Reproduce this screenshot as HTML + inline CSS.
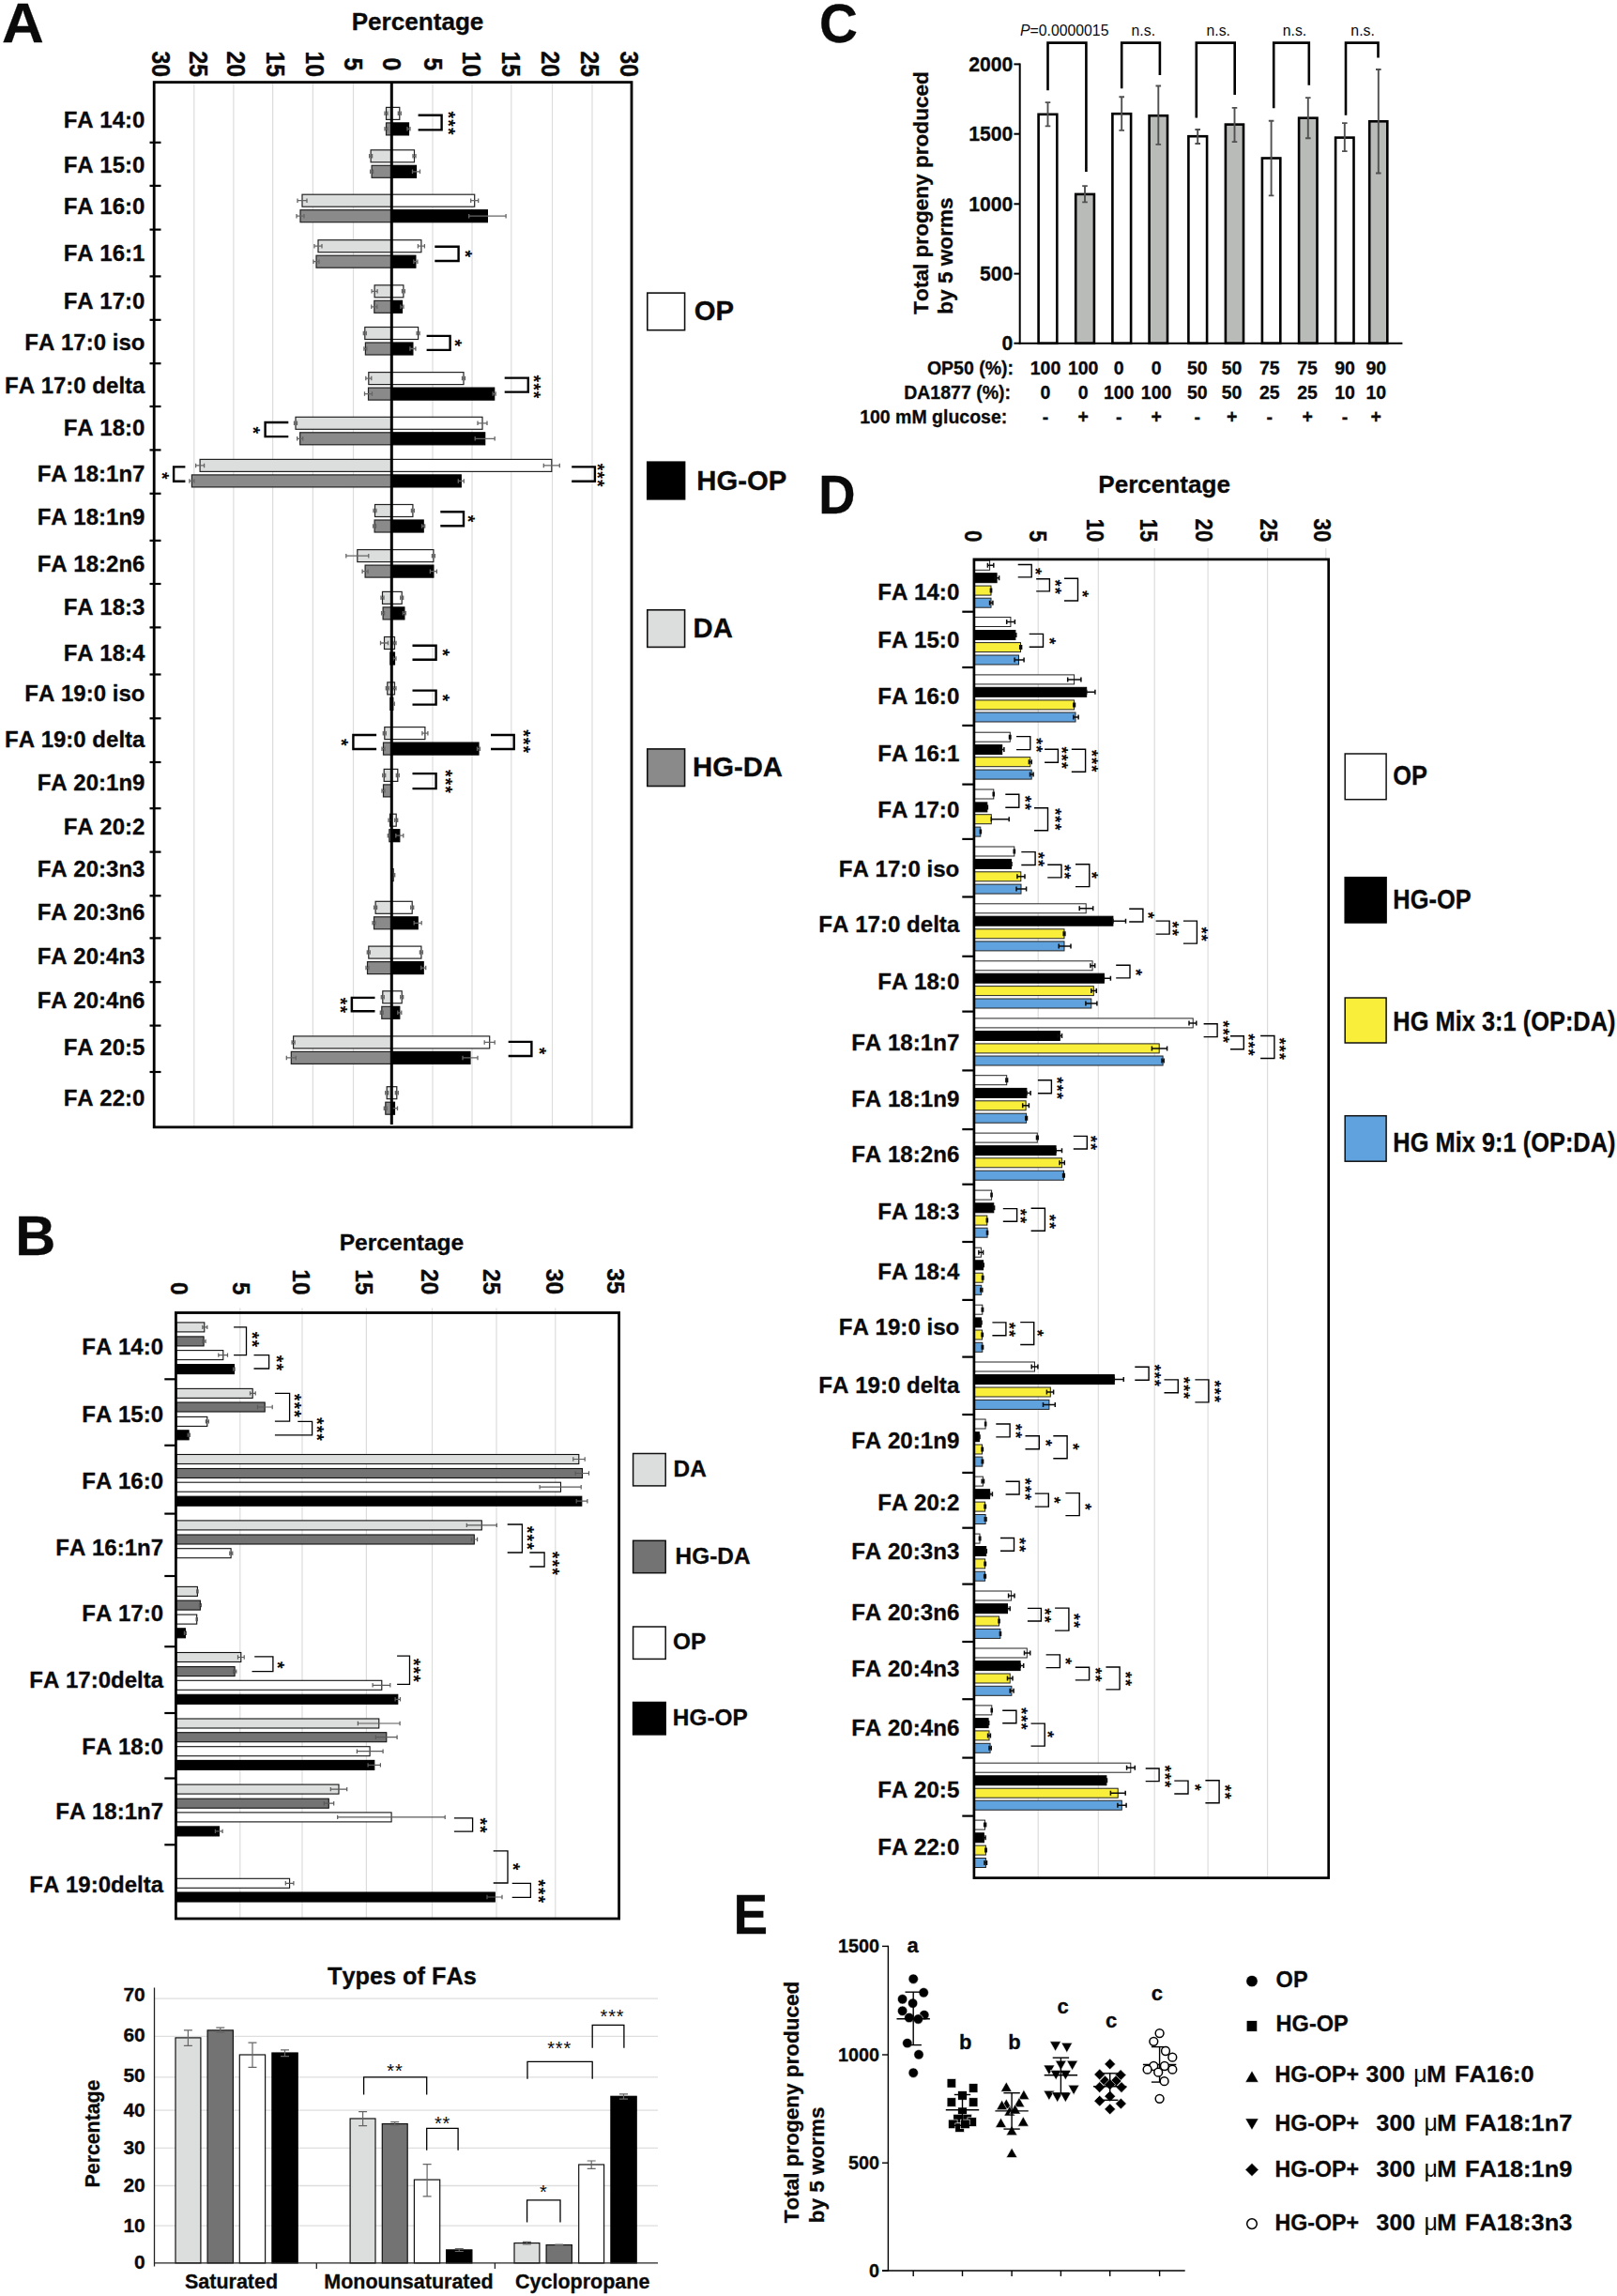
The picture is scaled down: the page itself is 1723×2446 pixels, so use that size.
<!DOCTYPE html>
<html lang="en"><head><meta charset="utf-8"><title>Figure</title>
<style>
html,body{margin:0;padding:0;background:#fff;}
body{width:1723px;height:2446px;overflow:hidden;}
svg{display:block;}
svg text{font-family:"Liberation Sans",Arial,Helvetica,sans-serif;font-kerning:none;font-variant-ligatures:none;}
</style></head><body>
<svg width="1723" height="2446" viewBox="0 0 1723 2446">
<rect x="0" y="0" width="1723" height="2446" fill="#fff"/>
<line x1="206.8" y1="87.6" x2="206.8" y2="1200.8" stroke="#dcdcdc" stroke-width="1.2"/>
<line x1="248.9" y1="87.6" x2="248.9" y2="1200.8" stroke="#dcdcdc" stroke-width="1.2"/>
<line x1="290.6" y1="87.6" x2="290.6" y2="1200.8" stroke="#dcdcdc" stroke-width="1.2"/>
<line x1="333.4" y1="87.6" x2="333.4" y2="1200.8" stroke="#dcdcdc" stroke-width="1.2"/>
<line x1="376.5" y1="87.6" x2="376.5" y2="1200.8" stroke="#dcdcdc" stroke-width="1.2"/>
<line x1="461" y1="87.6" x2="461" y2="1200.8" stroke="#dcdcdc" stroke-width="1.2"/>
<line x1="503" y1="87.6" x2="503" y2="1200.8" stroke="#dcdcdc" stroke-width="1.2"/>
<line x1="544.8" y1="87.6" x2="544.8" y2="1200.8" stroke="#dcdcdc" stroke-width="1.2"/>
<line x1="588.5" y1="87.6" x2="588.5" y2="1200.8" stroke="#dcdcdc" stroke-width="1.2"/>
<line x1="631" y1="87.6" x2="631" y2="1200.8" stroke="#dcdcdc" stroke-width="1.2"/>
<rect x="411.5" y="114.4" width="5.8" height="13" fill="#dcdedd" stroke="#222" stroke-width="1.2"/>
<rect x="417.3" y="114.4" width="8.5" height="13" fill="#fff" stroke="#222" stroke-width="1.2"/>
<rect x="411.5" y="130.9" width="5.8" height="13" fill="#8a8a8a" stroke="#222" stroke-width="1.2"/>
<rect x="417.3" y="130.9" width="18.2" height="13" fill="#000" stroke="#000" stroke-width="1.2"/>
<path d="M410 120.9H413M410 118.6V123.1M413 118.6V123.1" fill="none" stroke="#666" stroke-width="1.3"/>
<path d="M424.3 120.9H427.3M424.3 118.6V123.1M427.3 118.6V123.1" fill="none" stroke="#666" stroke-width="1.3"/>
<path d="M410 137.4H413M410 135.1V139.6M413 135.1V139.6" fill="none" stroke="#666" stroke-width="1.3"/>
<path d="M434 137.4H437M434 135.1V139.6M437 135.1V139.6" fill="none" stroke="#666" stroke-width="1.3"/>
<rect x="395.1" y="159.8" width="22.2" height="13" fill="#dcdedd" stroke="#222" stroke-width="1.2"/>
<rect x="417.3" y="159.8" width="24.2" height="13" fill="#fff" stroke="#222" stroke-width="1.2"/>
<rect x="396.1" y="176.3" width="21.2" height="13" fill="#8a8a8a" stroke="#222" stroke-width="1.2"/>
<rect x="417.3" y="176.3" width="26.2" height="13" fill="#000" stroke="#000" stroke-width="1.2"/>
<path d="M393.6 166.3H396.6M393.6 164.1V168.6M396.6 164.1V168.6" fill="none" stroke="#666" stroke-width="1.3"/>
<path d="M440 166.3H443M440 164.1V168.6M443 164.1V168.6" fill="none" stroke="#666" stroke-width="1.3"/>
<path d="M394.6 182.8H397.6M394.6 180.6V185.1M397.6 180.6V185.1" fill="none" stroke="#666" stroke-width="1.3"/>
<path d="M439.5 182.8H447.5M439.5 180.6V185.1M447.5 180.6V185.1" fill="none" stroke="#666" stroke-width="1.3"/>
<rect x="322" y="207.2" width="95.3" height="13" fill="#dcdedd" stroke="#222" stroke-width="1.2"/>
<rect x="417.3" y="207.2" width="88.4" height="13" fill="#fff" stroke="#222" stroke-width="1.2"/>
<rect x="320" y="223.7" width="97.3" height="13" fill="#8a8a8a" stroke="#222" stroke-width="1.2"/>
<rect x="417.3" y="223.7" width="102.1" height="13" fill="#000" stroke="#000" stroke-width="1.2"/>
<path d="M317 213.7H327M317 211.5V216M327 211.5V216" fill="none" stroke="#666" stroke-width="1.3"/>
<path d="M501.7 213.7H509.7M501.7 211.5V216M509.7 211.5V216" fill="none" stroke="#666" stroke-width="1.3"/>
<path d="M316 230.2H324M316 228V232.5M324 228V232.5" fill="none" stroke="#666" stroke-width="1.3"/>
<path d="M499.7 230.2H539.1M499.7 228V232.5M539.1 228V232.5" fill="none" stroke="#666" stroke-width="1.3"/>
<rect x="339" y="255.7" width="78.3" height="13" fill="#dcdedd" stroke="#222" stroke-width="1.2"/>
<rect x="417.3" y="255.7" width="31.6" height="13" fill="#fff" stroke="#222" stroke-width="1.2"/>
<rect x="337" y="272.2" width="80.3" height="13" fill="#8a8a8a" stroke="#222" stroke-width="1.2"/>
<rect x="417.3" y="272.2" width="25.6" height="13" fill="#000" stroke="#000" stroke-width="1.2"/>
<path d="M335 262.2H343M335 259.9V264.4M343 259.9V264.4" fill="none" stroke="#666" stroke-width="1.3"/>
<path d="M445.4 262.2H452.4M445.4 259.9V264.4M452.4 259.9V264.4" fill="none" stroke="#666" stroke-width="1.3"/>
<path d="M334 278.7H340M334 276.4V280.9M340 276.4V280.9" fill="none" stroke="#666" stroke-width="1.3"/>
<path d="M440.9 278.7H444.9M440.9 276.4V280.9M444.9 276.4V280.9" fill="none" stroke="#666" stroke-width="1.3"/>
<rect x="399.1" y="303.8" width="18.2" height="13" fill="#dcdedd" stroke="#222" stroke-width="1.2"/>
<rect x="417.3" y="303.8" width="12.6" height="13" fill="#fff" stroke="#222" stroke-width="1.2"/>
<rect x="398.8" y="320.3" width="18.5" height="13" fill="#8a8a8a" stroke="#222" stroke-width="1.2"/>
<rect x="417.3" y="320.3" width="11.2" height="13" fill="#000" stroke="#000" stroke-width="1.2"/>
<path d="M396.1 310.3H402.1M396.1 308V312.5M402.1 308V312.5" fill="none" stroke="#666" stroke-width="1.3"/>
<path d="M428.4 310.3H431.4M428.4 308V312.5M431.4 308V312.5" fill="none" stroke="#666" stroke-width="1.3"/>
<path d="M395.8 326.8H401.8M395.8 324.5V329M401.8 324.5V329" fill="none" stroke="#666" stroke-width="1.3"/>
<path d="M427 326.8H430M427 324.5V329M430 324.5V329" fill="none" stroke="#666" stroke-width="1.3"/>
<rect x="388.8" y="348.5" width="28.5" height="13" fill="#dcdedd" stroke="#222" stroke-width="1.2"/>
<rect x="417.3" y="348.5" width="28.3" height="13" fill="#fff" stroke="#222" stroke-width="1.2"/>
<rect x="389.4" y="365" width="27.9" height="13" fill="#8a8a8a" stroke="#222" stroke-width="1.2"/>
<rect x="417.3" y="365" width="22.6" height="13" fill="#000" stroke="#000" stroke-width="1.2"/>
<path d="M387.3 355H390.3M387.3 352.8V357.3M390.3 352.8V357.3" fill="none" stroke="#666" stroke-width="1.3"/>
<path d="M444.1 355H447.1M444.1 352.8V357.3M447.1 352.8V357.3" fill="none" stroke="#666" stroke-width="1.3"/>
<path d="M387.9 371.5H390.9M387.9 369.3V373.8M390.9 369.3V373.8" fill="none" stroke="#666" stroke-width="1.3"/>
<path d="M436.9 371.5H442.9M436.9 369.3V373.8M442.9 369.3V373.8" fill="none" stroke="#666" stroke-width="1.3"/>
<rect x="392.8" y="396.6" width="24.5" height="13" fill="#dcdedd" stroke="#222" stroke-width="1.2"/>
<rect x="417.3" y="396.6" width="76.7" height="13" fill="#fff" stroke="#222" stroke-width="1.2"/>
<rect x="392.5" y="413.1" width="24.8" height="13" fill="#8a8a8a" stroke="#222" stroke-width="1.2"/>
<rect x="417.3" y="413.1" width="109.4" height="13" fill="#000" stroke="#000" stroke-width="1.2"/>
<path d="M389.8 403.1H395.8M389.8 400.8V405.3M395.8 400.8V405.3" fill="none" stroke="#666" stroke-width="1.3"/>
<path d="M492.5 403.1H495.5M492.5 400.8V405.3M495.5 400.8V405.3" fill="none" stroke="#666" stroke-width="1.3"/>
<path d="M388.5 419.6H396.5M388.5 417.3V421.8M396.5 417.3V421.8" fill="none" stroke="#666" stroke-width="1.3"/>
<path d="M525.2 419.6H528.2M525.2 417.3V421.8M528.2 417.3V421.8" fill="none" stroke="#666" stroke-width="1.3"/>
<rect x="315" y="444.3" width="102.3" height="13" fill="#dcdedd" stroke="#222" stroke-width="1.2"/>
<rect x="417.3" y="444.3" width="96.7" height="13" fill="#fff" stroke="#222" stroke-width="1.2"/>
<rect x="319.7" y="460.8" width="97.6" height="13" fill="#8a8a8a" stroke="#222" stroke-width="1.2"/>
<rect x="417.3" y="460.8" width="99.4" height="13" fill="#000" stroke="#000" stroke-width="1.2"/>
<path d="M313.5 450.8H316.5M313.5 448.6V453.1M316.5 448.6V453.1" fill="none" stroke="#666" stroke-width="1.3"/>
<path d="M509 450.8H519M509 448.6V453.1M519 448.6V453.1" fill="none" stroke="#666" stroke-width="1.3"/>
<path d="M316.7 467.3H322.7M316.7 465.1V469.6M322.7 465.1V469.6" fill="none" stroke="#666" stroke-width="1.3"/>
<path d="M506.2 467.3H527.2M506.2 465.1V469.6M527.2 465.1V469.6" fill="none" stroke="#666" stroke-width="1.3"/>
<rect x="213.1" y="489.4" width="204.2" height="13" fill="#dcdedd" stroke="#222" stroke-width="1.2"/>
<rect x="417.3" y="489.4" width="170.5" height="13" fill="#fff" stroke="#222" stroke-width="1.2"/>
<rect x="204.4" y="505.9" width="212.9" height="13" fill="#8a8a8a" stroke="#222" stroke-width="1.2"/>
<rect x="417.3" y="505.9" width="74" height="13" fill="#000" stroke="#000" stroke-width="1.2"/>
<path d="M208.6 495.9H217.6M208.6 493.7V498.2M217.6 493.7V498.2" fill="none" stroke="#666" stroke-width="1.3"/>
<path d="M579.3 495.9H596.3M579.3 493.7V498.2M596.3 493.7V498.2" fill="none" stroke="#666" stroke-width="1.3"/>
<path d="M201.9 512.4H206.9M201.9 510.2V514.7M206.9 510.2V514.7" fill="none" stroke="#666" stroke-width="1.3"/>
<path d="M488.3 512.4H494.3M488.3 510.2V514.7M494.3 510.2V514.7" fill="none" stroke="#666" stroke-width="1.3"/>
<rect x="399.5" y="537.5" width="17.8" height="13" fill="#dcdedd" stroke="#222" stroke-width="1.2"/>
<rect x="417.3" y="537.5" width="22.6" height="13" fill="#fff" stroke="#222" stroke-width="1.2"/>
<rect x="399.1" y="554" width="18.2" height="13" fill="#8a8a8a" stroke="#222" stroke-width="1.2"/>
<rect x="417.3" y="554" width="33.9" height="13" fill="#000" stroke="#000" stroke-width="1.2"/>
<path d="M398 544H401M398 541.8V546.3M401 541.8V546.3" fill="none" stroke="#666" stroke-width="1.3"/>
<path d="M438.4 544H441.4M438.4 541.8V546.3M441.4 541.8V546.3" fill="none" stroke="#666" stroke-width="1.3"/>
<path d="M397.6 560.5H400.6M397.6 558.3V562.8M400.6 558.3V562.8" fill="none" stroke="#666" stroke-width="1.3"/>
<path d="M449.7 560.5H452.7M449.7 558.3V562.8M452.7 558.3V562.8" fill="none" stroke="#666" stroke-width="1.3"/>
<rect x="380.8" y="585.6" width="36.5" height="13" fill="#dcdedd" stroke="#222" stroke-width="1.2"/>
<rect x="417.3" y="585.6" width="44.6" height="13" fill="#fff" stroke="#222" stroke-width="1.2"/>
<rect x="389.1" y="602.1" width="28.2" height="13" fill="#8a8a8a" stroke="#222" stroke-width="1.2"/>
<rect x="417.3" y="602.1" width="44.6" height="13" fill="#000" stroke="#000" stroke-width="1.2"/>
<path d="M368.8 592.1H392.8M368.8 589.9V594.4M392.8 589.9V594.4" fill="none" stroke="#666" stroke-width="1.3"/>
<path d="M460.4 592.1H463.4M460.4 589.9V594.4M463.4 589.9V594.4" fill="none" stroke="#666" stroke-width="1.3"/>
<path d="M386.1 608.6H392.1M386.1 606.4V610.9M392.1 606.4V610.9" fill="none" stroke="#666" stroke-width="1.3"/>
<path d="M458.4 608.6H465.4M458.4 606.4V610.9M465.4 606.4V610.9" fill="none" stroke="#666" stroke-width="1.3"/>
<rect x="407.5" y="630.4" width="9.8" height="13" fill="#dcdedd" stroke="#222" stroke-width="1.2"/>
<rect x="417.3" y="630.4" width="10.9" height="13" fill="#fff" stroke="#222" stroke-width="1.2"/>
<rect x="408.1" y="646.9" width="9.2" height="13" fill="#8a8a8a" stroke="#222" stroke-width="1.2"/>
<rect x="417.3" y="646.9" width="13.6" height="13" fill="#000" stroke="#000" stroke-width="1.2"/>
<path d="M406 636.9H409M406 634.6V639.1M409 634.6V639.1" fill="none" stroke="#666" stroke-width="1.3"/>
<path d="M426.7 636.9H429.7M426.7 634.6V639.1M429.7 634.6V639.1" fill="none" stroke="#666" stroke-width="1.3"/>
<path d="M406.6 653.4H409.6M406.6 651.1V655.6M409.6 651.1V655.6" fill="none" stroke="#666" stroke-width="1.3"/>
<path d="M429.4 653.4H432.4M429.4 651.1V655.6M432.4 651.1V655.6" fill="none" stroke="#666" stroke-width="1.3"/>
<rect x="409.5" y="678.5" width="7.8" height="13" fill="#dcdedd" stroke="#222" stroke-width="1.2"/>
<rect x="417.3" y="678.5" width="3.2" height="13" fill="#fff" stroke="#222" stroke-width="1.2"/>
<rect x="415.8" y="695" width="1.5" height="13" fill="#8a8a8a" stroke="#222" stroke-width="1.2"/>
<rect x="417.3" y="695" width="3.2" height="13" fill="#000" stroke="#000" stroke-width="1.2"/>
<path d="M405.5 685H413.5M405.5 682.7V687.2M413.5 682.7V687.2" fill="none" stroke="#666" stroke-width="1.3"/>
<path d="M419 685H422M419 682.7V687.2M422 682.7V687.2" fill="none" stroke="#666" stroke-width="1.3"/>
<path d="M419 701.5H422M419 699.2V703.7M422 699.2V703.7" fill="none" stroke="#666" stroke-width="1.3"/>
<rect x="412.8" y="726.9" width="4.5" height="13" fill="#dcdedd" stroke="#222" stroke-width="1.2"/>
<rect x="417.3" y="726.9" width="3.2" height="13" fill="#fff" stroke="#222" stroke-width="1.2"/>
<rect x="415.8" y="743.4" width="1.5" height="13" fill="#8a8a8a" stroke="#222" stroke-width="1.2"/>
<rect x="417.3" y="743.4" width="1.5" height="13" fill="#000" stroke="#000" stroke-width="1.2"/>
<path d="M411.3 733.4H414.3M411.3 731.1V735.6M414.3 731.1V735.6" fill="none" stroke="#666" stroke-width="1.3"/>
<path d="M419 733.4H422M419 731.1V735.6M422 731.1V735.6" fill="none" stroke="#666" stroke-width="1.3"/>
<path d="M417.3 749.9H420.3M417.3 747.6V752.1M420.3 747.6V752.1" fill="none" stroke="#666" stroke-width="1.3"/>
<rect x="409.8" y="774.6" width="7.5" height="13" fill="#dcdedd" stroke="#222" stroke-width="1.2"/>
<rect x="417.3" y="774.6" width="35.6" height="13" fill="#fff" stroke="#222" stroke-width="1.2"/>
<rect x="408.5" y="791.1" width="8.8" height="13" fill="#8a8a8a" stroke="#222" stroke-width="1.2"/>
<rect x="417.3" y="791.1" width="92.7" height="13" fill="#000" stroke="#000" stroke-width="1.2"/>
<path d="M408.3 781.1H411.3M408.3 778.9V783.4M411.3 778.9V783.4" fill="none" stroke="#666" stroke-width="1.3"/>
<path d="M449.9 781.1H455.9M449.9 778.9V783.4M455.9 778.9V783.4" fill="none" stroke="#666" stroke-width="1.3"/>
<path d="M407 797.6H410M407 795.4V799.9M410 795.4V799.9" fill="none" stroke="#666" stroke-width="1.3"/>
<path d="M508.5 797.6H511.5M508.5 795.4V799.9M511.5 795.4V799.9" fill="none" stroke="#666" stroke-width="1.3"/>
<rect x="409.2" y="819.4" width="8.1" height="13" fill="#dcdedd" stroke="#222" stroke-width="1.2"/>
<rect x="417.3" y="819.4" width="6.5" height="13" fill="#fff" stroke="#222" stroke-width="1.2"/>
<rect x="408.5" y="835.9" width="8.8" height="13" fill="#8a8a8a" stroke="#222" stroke-width="1.2"/>
<path d="M407.7 825.9H410.7M407.7 823.7V828.2M410.7 823.7V828.2" fill="none" stroke="#666" stroke-width="1.3"/>
<path d="M422.3 825.9H425.3M422.3 823.7V828.2M425.3 823.7V828.2" fill="none" stroke="#666" stroke-width="1.3"/>
<path d="M407 842.4H410M407 840.2V844.7M410 840.2V844.7" fill="none" stroke="#666" stroke-width="1.3"/>
<rect x="415.5" y="867.2" width="1.8" height="13" fill="#dcdedd" stroke="#222" stroke-width="1.2"/>
<rect x="417.3" y="867.2" width="4.9" height="13" fill="#fff" stroke="#222" stroke-width="1.2"/>
<rect x="414.8" y="883.7" width="2.5" height="13" fill="#8a8a8a" stroke="#222" stroke-width="1.2"/>
<rect x="417.3" y="883.7" width="8.5" height="13" fill="#000" stroke="#000" stroke-width="1.2"/>
<path d="M414 873.7H417M414 871.4V875.9M417 871.4V875.9" fill="none" stroke="#666" stroke-width="1.3"/>
<path d="M420.7 873.7H423.7M420.7 871.4V875.9M423.7 871.4V875.9" fill="none" stroke="#666" stroke-width="1.3"/>
<path d="M413.3 890.2H416.3M413.3 887.9V892.4M416.3 887.9V892.4" fill="none" stroke="#666" stroke-width="1.3"/>
<path d="M421.8 890.2H429.8M421.8 887.9V892.4M429.8 887.9V892.4" fill="none" stroke="#666" stroke-width="1.3"/>
<rect x="417.3" y="925.6" width="1.9" height="13" fill="#fff" stroke="#222" stroke-width="1.2"/>
<path d="M417.7 932.1H420.7M417.7 929.9V934.4M420.7 929.9V934.4" fill="none" stroke="#666" stroke-width="1.3"/>
<rect x="400.1" y="960.3" width="17.2" height="13" fill="#dcdedd" stroke="#222" stroke-width="1.2"/>
<rect x="417.3" y="960.3" width="21.9" height="13" fill="#fff" stroke="#222" stroke-width="1.2"/>
<rect x="398.5" y="976.8" width="18.8" height="13" fill="#8a8a8a" stroke="#222" stroke-width="1.2"/>
<rect x="417.3" y="976.8" width="27.9" height="13" fill="#000" stroke="#000" stroke-width="1.2"/>
<path d="M398.6 966.8H401.6M398.6 964.6V969.1M401.6 964.6V969.1" fill="none" stroke="#666" stroke-width="1.3"/>
<path d="M437.7 966.8H440.7M437.7 964.6V969.1M440.7 964.6V969.1" fill="none" stroke="#666" stroke-width="1.3"/>
<path d="M397 983.3H400M397 981.1V985.6M400 981.1V985.6" fill="none" stroke="#666" stroke-width="1.3"/>
<path d="M441.2 983.3H449.2M441.2 981.1V985.6M449.2 981.1V985.6" fill="none" stroke="#666" stroke-width="1.3"/>
<rect x="392.8" y="1008.1" width="24.5" height="13" fill="#dcdedd" stroke="#222" stroke-width="1.2"/>
<rect x="417.3" y="1008.1" width="31.6" height="13" fill="#fff" stroke="#222" stroke-width="1.2"/>
<rect x="391.5" y="1024.6" width="25.8" height="13" fill="#8a8a8a" stroke="#222" stroke-width="1.2"/>
<rect x="417.3" y="1024.6" width="33.9" height="13" fill="#000" stroke="#000" stroke-width="1.2"/>
<path d="M391.3 1014.6H394.3M391.3 1012.3V1016.8M394.3 1012.3V1016.8" fill="none" stroke="#666" stroke-width="1.3"/>
<path d="M447.4 1014.6H450.4M447.4 1012.3V1016.8M450.4 1012.3V1016.8" fill="none" stroke="#666" stroke-width="1.3"/>
<path d="M390 1031.1H393M390 1028.8V1033.3M393 1028.8V1033.3" fill="none" stroke="#666" stroke-width="1.3"/>
<path d="M448.7 1031.1H453.7M448.7 1028.8V1033.3M453.7 1028.8V1033.3" fill="none" stroke="#666" stroke-width="1.3"/>
<rect x="407.8" y="1055.8" width="9.5" height="13" fill="#dcdedd" stroke="#222" stroke-width="1.2"/>
<rect x="417.3" y="1055.8" width="10.9" height="13" fill="#fff" stroke="#222" stroke-width="1.2"/>
<rect x="406.8" y="1072.3" width="10.5" height="13" fill="#8a8a8a" stroke="#222" stroke-width="1.2"/>
<rect x="417.3" y="1072.3" width="8.5" height="13" fill="#000" stroke="#000" stroke-width="1.2"/>
<path d="M406.3 1062.3H409.3M406.3 1060.1V1064.6M409.3 1060.1V1064.6" fill="none" stroke="#666" stroke-width="1.3"/>
<path d="M426.7 1062.3H429.7M426.7 1060.1V1064.6M429.7 1060.1V1064.6" fill="none" stroke="#666" stroke-width="1.3"/>
<path d="M405.3 1078.8H408.3M405.3 1076.6V1081.1M408.3 1076.6V1081.1" fill="none" stroke="#666" stroke-width="1.3"/>
<path d="M423.8 1078.8H427.8M423.8 1076.6V1081.1M427.8 1076.6V1081.1" fill="none" stroke="#666" stroke-width="1.3"/>
<rect x="312.6" y="1103.9" width="104.7" height="13" fill="#dcdedd" stroke="#222" stroke-width="1.2"/>
<rect x="417.3" y="1103.9" width="104.4" height="13" fill="#fff" stroke="#222" stroke-width="1.2"/>
<rect x="310.3" y="1120.4" width="107" height="13" fill="#8a8a8a" stroke="#222" stroke-width="1.2"/>
<rect x="417.3" y="1120.4" width="83.7" height="13" fill="#000" stroke="#000" stroke-width="1.2"/>
<path d="M311.1 1110.4H314.1M311.1 1108.2V1112.7M314.1 1108.2V1112.7" fill="none" stroke="#666" stroke-width="1.3"/>
<path d="M516.2 1110.4H527.2M516.2 1108.2V1112.7M527.2 1108.2V1112.7" fill="none" stroke="#666" stroke-width="1.3"/>
<path d="M305.3 1126.9H315.3M305.3 1124.7V1129.2M315.3 1124.7V1129.2" fill="none" stroke="#666" stroke-width="1.3"/>
<path d="M493 1126.9H509M493 1124.7V1129.2M509 1124.7V1129.2" fill="none" stroke="#666" stroke-width="1.3"/>
<rect x="412.2" y="1157.7" width="5.1" height="13" fill="#dcdedd" stroke="#222" stroke-width="1.2"/>
<rect x="417.3" y="1157.7" width="5.5" height="13" fill="#fff" stroke="#222" stroke-width="1.2"/>
<rect x="410.8" y="1174.2" width="6.5" height="13" fill="#8a8a8a" stroke="#222" stroke-width="1.2"/>
<rect x="417.3" y="1174.2" width="3.2" height="13" fill="#000" stroke="#000" stroke-width="1.2"/>
<path d="M410.7 1164.2H413.7M410.7 1162V1166.5M413.7 1162V1166.5" fill="none" stroke="#666" stroke-width="1.3"/>
<path d="M421.3 1164.2H424.3M421.3 1162V1166.5M424.3 1162V1166.5" fill="none" stroke="#666" stroke-width="1.3"/>
<path d="M409.3 1180.7H412.3M409.3 1178.5V1183M412.3 1178.5V1183" fill="none" stroke="#666" stroke-width="1.3"/>
<path d="M417.5 1180.7H423.5M417.5 1178.5V1183M423.5 1178.5V1183" fill="none" stroke="#666" stroke-width="1.3"/>
<rect x="164.2" y="87.6" width="508.8" height="1113.2" fill="none" stroke="#000" stroke-width="2.8"/>
<line x1="417.3" y1="87.6" x2="417.3" y2="1198" stroke="#000" stroke-width="3"/>
<line x1="159.5" y1="151.8" x2="171.5" y2="151.8" stroke="#000" stroke-width="2.2"/>
<line x1="159.5" y1="197.9" x2="171.5" y2="197.9" stroke="#000" stroke-width="2.2"/>
<line x1="159.5" y1="244.6" x2="171.5" y2="244.6" stroke="#000" stroke-width="2.2"/>
<line x1="159.5" y1="294.4" x2="171.5" y2="294.4" stroke="#000" stroke-width="2.2"/>
<line x1="159.5" y1="340.8" x2="171.5" y2="340.8" stroke="#000" stroke-width="2.2"/>
<line x1="159.5" y1="387.2" x2="171.5" y2="387.2" stroke="#000" stroke-width="2.2"/>
<line x1="159.5" y1="433" x2="171.5" y2="433" stroke="#000" stroke-width="2.2"/>
<line x1="159.5" y1="479.4" x2="171.5" y2="479.4" stroke="#000" stroke-width="2.2"/>
<line x1="159.5" y1="525.8" x2="171.5" y2="525.8" stroke="#000" stroke-width="2.2"/>
<line x1="159.5" y1="575.9" x2="171.5" y2="575.9" stroke="#000" stroke-width="2.2"/>
<line x1="159.5" y1="622" x2="171.5" y2="622" stroke="#000" stroke-width="2.2"/>
<line x1="159.5" y1="668.4" x2="171.5" y2="668.4" stroke="#000" stroke-width="2.2"/>
<line x1="159.5" y1="718.5" x2="171.5" y2="718.5" stroke="#000" stroke-width="2.2"/>
<line x1="159.5" y1="765.3" x2="171.5" y2="765.3" stroke="#000" stroke-width="2.2"/>
<line x1="159.5" y1="812" x2="171.5" y2="812" stroke="#000" stroke-width="2.2"/>
<line x1="159.5" y1="861.2" x2="171.5" y2="861.2" stroke="#000" stroke-width="2.2"/>
<line x1="159.5" y1="907.6" x2="171.5" y2="907.6" stroke="#000" stroke-width="2.2"/>
<line x1="159.5" y1="954.3" x2="171.5" y2="954.3" stroke="#000" stroke-width="2.2"/>
<line x1="159.5" y1="999.4" x2="171.5" y2="999.4" stroke="#000" stroke-width="2.2"/>
<line x1="159.5" y1="1046.2" x2="171.5" y2="1046.2" stroke="#000" stroke-width="2.2"/>
<line x1="159.5" y1="1092.6" x2="171.5" y2="1092.6" stroke="#000" stroke-width="2.2"/>
<line x1="159.5" y1="1142" x2="171.5" y2="1142" stroke="#000" stroke-width="2.2"/>
<text transform="translate(171.7,68.3) rotate(90) scale(1.030,1.120)" y="8.6" font-size="24" font-weight="bold" text-anchor="middle" fill="#0a0a0a" stroke="#0a0a0a" stroke-width="0.3">30</text>
<text transform="translate(211.5,68.3) rotate(90) scale(1.030,1.120)" y="8.6" font-size="24" font-weight="bold" text-anchor="middle" fill="#0a0a0a" stroke="#0a0a0a" stroke-width="0.3">25</text>
<text transform="translate(251.8,68.3) rotate(90) scale(1.030,1.120)" y="8.6" font-size="24" font-weight="bold" text-anchor="middle" fill="#0a0a0a" stroke="#0a0a0a" stroke-width="0.3">20</text>
<text transform="translate(294,68.3) rotate(90) scale(1.030,1.120)" y="8.6" font-size="24" font-weight="bold" text-anchor="middle" fill="#0a0a0a" stroke="#0a0a0a" stroke-width="0.3">15</text>
<text transform="translate(336,68.3) rotate(90) scale(1.030,1.120)" y="8.6" font-size="24" font-weight="bold" text-anchor="middle" fill="#0a0a0a" stroke="#0a0a0a" stroke-width="0.3">10</text>
<text transform="translate(377,68.3) rotate(90) scale(1.030,1.120)" y="8.6" font-size="24" font-weight="bold" text-anchor="middle" fill="#0a0a0a" stroke="#0a0a0a" stroke-width="0.3">5</text>
<text transform="translate(418,68.3) rotate(90) scale(1.030,1.120)" y="8.6" font-size="24" font-weight="bold" text-anchor="middle" fill="#0a0a0a" stroke="#0a0a0a" stroke-width="0.3">0</text>
<text transform="translate(461.3,68.3) rotate(90) scale(1.030,1.120)" y="8.6" font-size="24" font-weight="bold" text-anchor="middle" fill="#0a0a0a" stroke="#0a0a0a" stroke-width="0.3">5</text>
<text transform="translate(503,68.3) rotate(90) scale(1.030,1.120)" y="8.6" font-size="24" font-weight="bold" text-anchor="middle" fill="#0a0a0a" stroke="#0a0a0a" stroke-width="0.3">10</text>
<text transform="translate(544.8,68.3) rotate(90) scale(1.030,1.120)" y="8.6" font-size="24" font-weight="bold" text-anchor="middle" fill="#0a0a0a" stroke="#0a0a0a" stroke-width="0.3">15</text>
<text transform="translate(586.2,68.3) rotate(90) scale(1.030,1.120)" y="8.6" font-size="24" font-weight="bold" text-anchor="middle" fill="#0a0a0a" stroke="#0a0a0a" stroke-width="0.3">20</text>
<text transform="translate(628.3,68.3) rotate(90) scale(1.030,1.120)" y="8.6" font-size="24" font-weight="bold" text-anchor="middle" fill="#0a0a0a" stroke="#0a0a0a" stroke-width="0.3">25</text>
<text transform="translate(671,68.3) rotate(90) scale(1.030,1.120)" y="8.6" font-size="24" font-weight="bold" text-anchor="middle" fill="#0a0a0a" stroke="#0a0a0a" stroke-width="0.3">30</text>
<text transform="translate(445,32.2)" y="0" font-size="26.1" font-weight="bold" text-anchor="middle" fill="#0a0a0a" stroke="#0a0a0a" stroke-width="0.3">Percentage</text>
<text transform="translate(1.9,44.7) scale(1.050,1.000)" y="0" font-size="59" font-weight="bold" text-anchor="start" fill="#0a0a0a" stroke="#0a0a0a" stroke-width="0.3">A</text>
<text transform="translate(154.4,136.3)" y="0" font-size="24" font-weight="bold" text-anchor="end" fill="#0a0a0a" stroke="#0a0a0a" stroke-width="0.3">FA 14:0</text>
<text transform="translate(154.4,183.5)" y="0" font-size="24" font-weight="bold" text-anchor="end" fill="#0a0a0a" stroke="#0a0a0a" stroke-width="0.3">FA 15:0</text>
<text transform="translate(154.4,227.8)" y="0" font-size="24" font-weight="bold" text-anchor="end" fill="#0a0a0a" stroke="#0a0a0a" stroke-width="0.3">FA 16:0</text>
<text transform="translate(154.4,278.3)" y="0" font-size="24" font-weight="bold" text-anchor="end" fill="#0a0a0a" stroke="#0a0a0a" stroke-width="0.3">FA 16:1</text>
<text transform="translate(154.4,328.7)" y="0" font-size="24" font-weight="bold" text-anchor="end" fill="#0a0a0a" stroke="#0a0a0a" stroke-width="0.3">FA 17:0</text>
<text transform="translate(154.4,373)" y="0" font-size="24" font-weight="bold" text-anchor="end" fill="#0a0a0a" stroke="#0a0a0a" stroke-width="0.3">FA 17:0 iso</text>
<text transform="translate(154.4,419)" y="0" font-size="24" font-weight="bold" text-anchor="end" fill="#0a0a0a" stroke="#0a0a0a" stroke-width="0.3">FA 17:0 delta</text>
<text transform="translate(154.4,464)" y="0" font-size="24" font-weight="bold" text-anchor="end" fill="#0a0a0a" stroke="#0a0a0a" stroke-width="0.3">FA 18:0</text>
<text transform="translate(154.4,512.5)" y="0" font-size="24" font-weight="bold" text-anchor="end" fill="#0a0a0a" stroke="#0a0a0a" stroke-width="0.3">FA 18:1n7</text>
<text transform="translate(154.4,559.3)" y="0" font-size="24" font-weight="bold" text-anchor="end" fill="#0a0a0a" stroke="#0a0a0a" stroke-width="0.3">FA 18:1n9</text>
<text transform="translate(154.4,608.7)" y="0" font-size="24" font-weight="bold" text-anchor="end" fill="#0a0a0a" stroke="#0a0a0a" stroke-width="0.3">FA 18:2n6</text>
<text transform="translate(154.4,654.5)" y="0" font-size="24" font-weight="bold" text-anchor="end" fill="#0a0a0a" stroke="#0a0a0a" stroke-width="0.3">FA 18:3</text>
<text transform="translate(154.4,704)" y="0" font-size="24" font-weight="bold" text-anchor="end" fill="#0a0a0a" stroke="#0a0a0a" stroke-width="0.3">FA 18:4</text>
<text transform="translate(154.4,747)" y="0" font-size="24" font-weight="bold" text-anchor="end" fill="#0a0a0a" stroke="#0a0a0a" stroke-width="0.3">FA 19:0 iso</text>
<text transform="translate(154.4,795.5)" y="0" font-size="24" font-weight="bold" text-anchor="end" fill="#0a0a0a" stroke="#0a0a0a" stroke-width="0.3">FA 19:0 delta</text>
<text transform="translate(154.4,842.3)" y="0" font-size="24" font-weight="bold" text-anchor="end" fill="#0a0a0a" stroke="#0a0a0a" stroke-width="0.3">FA 20:1n9</text>
<text transform="translate(154.4,888.5)" y="0" font-size="24" font-weight="bold" text-anchor="end" fill="#0a0a0a" stroke="#0a0a0a" stroke-width="0.3">FA 20:2</text>
<text transform="translate(154.4,933.6)" y="0" font-size="24" font-weight="bold" text-anchor="end" fill="#0a0a0a" stroke="#0a0a0a" stroke-width="0.3">FA 20:3n3</text>
<text transform="translate(154.4,980.1)" y="0" font-size="24" font-weight="bold" text-anchor="end" fill="#0a0a0a" stroke="#0a0a0a" stroke-width="0.3">FA 20:3n6</text>
<text transform="translate(154.4,1026.8)" y="0" font-size="24" font-weight="bold" text-anchor="end" fill="#0a0a0a" stroke="#0a0a0a" stroke-width="0.3">FA 20:4n3</text>
<text transform="translate(154.4,1074.3)" y="0" font-size="24" font-weight="bold" text-anchor="end" fill="#0a0a0a" stroke="#0a0a0a" stroke-width="0.3">FA 20:4n6</text>
<text transform="translate(154.4,1123.5)" y="0" font-size="24" font-weight="bold" text-anchor="end" fill="#0a0a0a" stroke="#0a0a0a" stroke-width="0.3">FA 20:5</text>
<text transform="translate(154.4,1178.4)" y="0" font-size="24" font-weight="bold" text-anchor="end" fill="#0a0a0a" stroke="#0a0a0a" stroke-width="0.3">FA 22:0</text>
<path d="M445.6 122.7H470.6V138.4H445.6" fill="none" stroke="#000" stroke-width="2.4"/>
<text transform="translate(481.3,131.6) rotate(90)" y="9.9" font-size="19.5" font-weight="bold" text-anchor="middle" fill="#0a0a0a" letter-spacing="1.1">***</text>
<path d="M463.3 262.7H488.6V278H463.3" fill="none" stroke="#000" stroke-width="2.4"/>
<text transform="translate(498.7,270.4) rotate(90)" y="9.9" font-size="19.5" font-weight="bold" text-anchor="middle" fill="#0a0a0a">*</text>
<path d="M454.6 357.9H479.6V372.9H454.6" fill="none" stroke="#000" stroke-width="2.4"/>
<text transform="translate(488.3,365.2) rotate(90)" y="9.9" font-size="19.5" font-weight="bold" text-anchor="middle" fill="#0a0a0a">*</text>
<path d="M537.7 402.6H562.8V417.6H537.7" fill="none" stroke="#000" stroke-width="2.4"/>
<text transform="translate(571.8,412.5) rotate(90)" y="9.9" font-size="19.5" font-weight="bold" text-anchor="middle" fill="#0a0a0a" letter-spacing="1.1">***</text>
<path d="M307.3 450H282.6V465.1H307.3" fill="none" stroke="#000" stroke-width="2.4"/>
<text transform="translate(273.2,458.4) rotate(90)" y="9.9" font-size="19.5" font-weight="bold" text-anchor="middle" fill="#0a0a0a">*</text>
<path d="M197.4 497.4H185.1V512.8H197.4" fill="none" stroke="#000" stroke-width="2.4"/>
<text transform="translate(176,506.8) rotate(90)" y="9.9" font-size="19.5" font-weight="bold" text-anchor="middle" fill="#0a0a0a">*</text>
<path d="M609.2 497.4H633.9V512.8H609.2" fill="none" stroke="#000" stroke-width="2.4"/>
<text transform="translate(640.2,506.7) rotate(90)" y="9.9" font-size="19.5" font-weight="bold" text-anchor="middle" fill="#0a0a0a" letter-spacing="1.1">***</text>
<path d="M469.3 545.2H494V560.2H469.3" fill="none" stroke="#000" stroke-width="2.4"/>
<text transform="translate(501.7,552.5) rotate(90)" y="9.9" font-size="19.5" font-weight="bold" text-anchor="middle" fill="#0a0a0a">*</text>
<path d="M439.5 687.8H464.6V702.8H439.5" fill="none" stroke="#000" stroke-width="2.4"/>
<text transform="translate(474.9,695.1) rotate(90)" y="9.9" font-size="19.5" font-weight="bold" text-anchor="middle" fill="#0a0a0a">*</text>
<path d="M439.5 735.6H464.6V750.6H439.5" fill="none" stroke="#000" stroke-width="2.4"/>
<text transform="translate(474.9,743.2) rotate(90)" y="9.9" font-size="19.5" font-weight="bold" text-anchor="middle" fill="#0a0a0a">*</text>
<path d="M401.1 783H376.4V798H401.1" fill="none" stroke="#000" stroke-width="2.4"/>
<text transform="translate(367.1,790.7) rotate(90)" y="9.9" font-size="19.5" font-weight="bold" text-anchor="middle" fill="#0a0a0a">*</text>
<path d="M523 783H547.7V798H523" fill="none" stroke="#000" stroke-width="2.4"/>
<text transform="translate(561.4,790.2) rotate(90)" y="9.9" font-size="19.5" font-weight="bold" text-anchor="middle" fill="#0a0a0a" letter-spacing="1.1">***</text>
<path d="M439.5 824.1H464.6V840.1H439.5" fill="none" stroke="#000" stroke-width="2.4"/>
<text transform="translate(478.3,833) rotate(90)" y="9.9" font-size="19.5" font-weight="bold" text-anchor="middle" fill="#0a0a0a" letter-spacing="1.1">***</text>
<path d="M399.5 1062.9H374.8V1077.2H399.5" fill="none" stroke="#000" stroke-width="2.4"/>
<text transform="translate(366.1,1071.4) rotate(90)" y="9.9" font-size="19.5" font-weight="bold" text-anchor="middle" fill="#0a0a0a" letter-spacing="1.1">**</text>
<path d="M541.7 1109.9H566.4V1125H541.7" fill="none" stroke="#000" stroke-width="2.4"/>
<text transform="translate(578.1,1119.6) rotate(90)" y="9.9" font-size="19.5" font-weight="bold" text-anchor="middle" fill="#0a0a0a">*</text>
<rect x="689.8" y="312.1" width="39.8" height="39.6" fill="#fff" stroke="#111" stroke-width="1.6"/>
<text transform="translate(739.8,341.4)" y="0" font-size="29.3" font-weight="bold" text-anchor="start" fill="#0a0a0a" stroke="#0a0a0a" stroke-width="0.3">OP</text>
<rect x="689.8" y="492.2" width="39.8" height="39.6" fill="#000" stroke="#000" stroke-width="1.6"/>
<text transform="translate(742.3,521.8)" y="0" font-size="29.3" font-weight="bold" text-anchor="start" fill="#0a0a0a" stroke="#0a0a0a" stroke-width="0.3">HG-OP</text>
<rect x="689.8" y="649.8" width="39.8" height="39.6" fill="#dcdedd" stroke="#111" stroke-width="1.6"/>
<text transform="translate(738.5,679.1)" y="0" font-size="29.3" font-weight="bold" text-anchor="start" fill="#0a0a0a" stroke="#0a0a0a" stroke-width="0.3">DA</text>
<rect x="689.8" y="797.9" width="39.8" height="39.6" fill="#8a8a8a" stroke="#111" stroke-width="1.6"/>
<text transform="translate(738,826.9)" y="0" font-size="29.3" font-weight="bold" text-anchor="start" fill="#0a0a0a" stroke="#0a0a0a" stroke-width="0.3">HG-DA</text>
<line x1="255.8" y1="1393.5" x2="255.8" y2="2044" stroke="#dcdcdc" stroke-width="1.2"/>
<line x1="322" y1="1393.5" x2="322" y2="2044" stroke="#dcdcdc" stroke-width="1.2"/>
<line x1="390.4" y1="1393.5" x2="390.4" y2="2044" stroke="#dcdcdc" stroke-width="1.2"/>
<line x1="460.5" y1="1393.5" x2="460.5" y2="2044" stroke="#dcdcdc" stroke-width="1.2"/>
<line x1="529" y1="1393.5" x2="529" y2="2044" stroke="#dcdcdc" stroke-width="1.2"/>
<line x1="591.8" y1="1393.5" x2="591.8" y2="2044" stroke="#dcdcdc" stroke-width="1.2"/>
<rect x="188" y="1408.9" width="29.8" height="10" fill="#dcdedd" stroke="#111" stroke-width="1.1"/>
<path d="M215.8 1413.9H220.8M215.8 1411.7V1416.1M220.8 1411.7V1416.1" fill="none" stroke="#5a5a5a" stroke-width="1.2"/>
<rect x="188" y="1423.9" width="29.1" height="10" fill="#737373" stroke="#111" stroke-width="1.1"/>
<path d="M215.8 1428.9H219.1M215.8 1426.7V1431.1M219.1 1426.7V1431.1" fill="none" stroke="#5a5a5a" stroke-width="1.2"/>
<rect x="188" y="1438.6" width="49.8" height="10" fill="#fff" stroke="#111" stroke-width="1.1"/>
<path d="M232.8 1443.6H242.5M232.8 1441.4V1445.8M242.5 1441.4V1445.8" fill="none" stroke="#5a5a5a" stroke-width="1.2"/>
<rect x="188" y="1453.6" width="61.5" height="10" fill="#000" stroke="#000" stroke-width="1.1"/>
<path d="M248.5 1458.6H250.1M248.5 1456.4V1460.8M250.1 1456.4V1460.8" fill="none" stroke="#5a5a5a" stroke-width="1.2"/>
<rect x="188" y="1479.4" width="81.2" height="10" fill="#dcdedd" stroke="#111" stroke-width="1.1"/>
<path d="M266.5 1484.4H272.2M266.5 1482.2V1486.6M272.2 1482.2V1486.6" fill="none" stroke="#5a5a5a" stroke-width="1.2"/>
<rect x="188" y="1494" width="94.2" height="10" fill="#737373" stroke="#111" stroke-width="1.1"/>
<path d="M274.5 1499H290.2M274.5 1496.8V1501.2M290.2 1496.8V1501.2" fill="none" stroke="#5a5a5a" stroke-width="1.2"/>
<rect x="188" y="1509.4" width="32.8" height="10" fill="#fff" stroke="#111" stroke-width="1.1"/>
<path d="M219.4 1514.4H222.4M219.4 1512.2V1516.6M222.4 1512.2V1516.6" fill="none" stroke="#5a5a5a" stroke-width="1.2"/>
<rect x="188" y="1523.8" width="13.1" height="10" fill="#000" stroke="#000" stroke-width="1.1"/>
<path d="M200.1 1528.8H202.4M200.1 1526.6V1531M202.4 1526.6V1531" fill="none" stroke="#5a5a5a" stroke-width="1.2"/>
<rect x="188" y="1549.5" width="428.8" height="10" fill="#dcdedd" stroke="#111" stroke-width="1.1"/>
<path d="M610.8 1554.5H623.2M610.8 1552.3V1556.7M623.2 1552.3V1556.7" fill="none" stroke="#5a5a5a" stroke-width="1.2"/>
<rect x="188" y="1564.5" width="432.5" height="10" fill="#737373" stroke="#111" stroke-width="1.1"/>
<path d="M613.2 1569.5H627.5M613.2 1567.3V1571.7M627.5 1567.3V1571.7" fill="none" stroke="#5a5a5a" stroke-width="1.2"/>
<rect x="188" y="1579.2" width="409.5" height="10" fill="#fff" stroke="#111" stroke-width="1.1"/>
<path d="M575.1 1584.2H619.2M575.1 1582V1586.4M619.2 1582V1586.4" fill="none" stroke="#5a5a5a" stroke-width="1.2"/>
<rect x="188" y="1594.2" width="431.8" height="10" fill="#000" stroke="#000" stroke-width="1.1"/>
<path d="M614.2 1599.2H625.9M614.2 1597V1601.4M625.9 1597V1601.4" fill="none" stroke="#5a5a5a" stroke-width="1.2"/>
<rect x="188" y="1619.9" width="325.3" height="10" fill="#dcdedd" stroke="#111" stroke-width="1.1"/>
<path d="M497.3 1624.9H529.3M497.3 1622.7V1627.1M529.3 1622.7V1627.1" fill="none" stroke="#5a5a5a" stroke-width="1.2"/>
<rect x="188" y="1635" width="317.3" height="10" fill="#737373" stroke="#111" stroke-width="1.1"/>
<path d="M502.3 1640H508.6M502.3 1637.8V1642.2M508.6 1637.8V1642.2" fill="none" stroke="#5a5a5a" stroke-width="1.2"/>
<rect x="188" y="1649.7" width="58.1" height="10" fill="#fff" stroke="#111" stroke-width="1.1"/>
<path d="M244.8 1654.7H247.8M244.8 1652.5V1656.9M247.8 1652.5V1656.9" fill="none" stroke="#5a5a5a" stroke-width="1.2"/>
<rect x="188" y="1690.4" width="22.4" height="10" fill="#dcdedd" stroke="#111" stroke-width="1.1"/>
<path d="M209.7 1695.4H211.1M209.7 1693.2V1697.6M211.1 1693.2V1697.6" fill="none" stroke="#5a5a5a" stroke-width="1.2"/>
<rect x="188" y="1705.1" width="25.4" height="10" fill="#737373" stroke="#111" stroke-width="1.1"/>
<path d="M212.4 1710.1H214.4M212.4 1707.9V1712.3M214.4 1707.9V1712.3" fill="none" stroke="#5a5a5a" stroke-width="1.2"/>
<rect x="188" y="1720.1" width="21.7" height="10" fill="#fff" stroke="#111" stroke-width="1.1"/>
<path d="M209.1 1725.1H210.4M209.1 1722.9V1727.3M210.4 1722.9V1727.3" fill="none" stroke="#5a5a5a" stroke-width="1.2"/>
<rect x="188" y="1734.8" width="9.4" height="10" fill="#000" stroke="#000" stroke-width="1.1"/>
<path d="M196.4 1739.8H198.4M196.4 1737.6V1742M198.4 1737.6V1742" fill="none" stroke="#5a5a5a" stroke-width="1.2"/>
<rect x="188" y="1760.5" width="68.8" height="10" fill="#dcdedd" stroke="#111" stroke-width="1.1"/>
<path d="M253.5 1765.5H260.2M253.5 1763.3V1767.7M260.2 1763.3V1767.7" fill="none" stroke="#5a5a5a" stroke-width="1.2"/>
<rect x="188" y="1775.6" width="62.1" height="10" fill="#737373" stroke="#111" stroke-width="1.1"/>
<path d="M248.5 1780.6H251.8M248.5 1778.4V1782.8M251.8 1778.4V1782.8" fill="none" stroke="#5a5a5a" stroke-width="1.2"/>
<rect x="188" y="1790.3" width="218.8" height="10" fill="#fff" stroke="#111" stroke-width="1.1"/>
<path d="M397.1 1795.3H415.8M397.1 1793.1V1797.5M415.8 1793.1V1797.5" fill="none" stroke="#5a5a5a" stroke-width="1.2"/>
<rect x="188" y="1805.3" width="235.8" height="10" fill="#000" stroke="#000" stroke-width="1.1"/>
<path d="M421.1 1810.3H426.5M421.1 1808.1V1812.5M426.5 1808.1V1812.5" fill="none" stroke="#5a5a5a" stroke-width="1.2"/>
<rect x="188" y="1831" width="215.8" height="10" fill="#dcdedd" stroke="#111" stroke-width="1.1"/>
<path d="M381.4 1836H426.1M381.4 1833.8V1838.2M426.1 1833.8V1838.2" fill="none" stroke="#5a5a5a" stroke-width="1.2"/>
<rect x="188" y="1845.7" width="223.8" height="10" fill="#737373" stroke="#111" stroke-width="1.1"/>
<path d="M400.4 1850.7H423.1M400.4 1848.5V1852.9M423.1 1848.5V1852.9" fill="none" stroke="#5a5a5a" stroke-width="1.2"/>
<rect x="188" y="1860.7" width="206.1" height="10" fill="#fff" stroke="#111" stroke-width="1.1"/>
<path d="M380.4 1865.7H408.1M380.4 1863.5V1867.9M408.1 1863.5V1867.9" fill="none" stroke="#5a5a5a" stroke-width="1.2"/>
<rect x="188" y="1875.4" width="210.8" height="10" fill="#000" stroke="#000" stroke-width="1.1"/>
<path d="M392.1 1880.4H405.4M392.1 1878.2V1882.6M405.4 1878.2V1882.6" fill="none" stroke="#5a5a5a" stroke-width="1.2"/>
<rect x="188" y="1901.1" width="173" height="10" fill="#dcdedd" stroke="#111" stroke-width="1.1"/>
<path d="M352.3 1906.1H369.7M352.3 1903.9V1908.3M369.7 1903.9V1908.3" fill="none" stroke="#5a5a5a" stroke-width="1.2"/>
<rect x="188" y="1916.2" width="162.3" height="10" fill="#737373" stroke="#111" stroke-width="1.1"/>
<path d="M345.3 1921.2H355.7M345.3 1919V1923.4M355.7 1919V1923.4" fill="none" stroke="#5a5a5a" stroke-width="1.2"/>
<rect x="188" y="1930.9" width="229.1" height="10" fill="#fff" stroke="#111" stroke-width="1.1"/>
<path d="M359.7 1935.9H474.2M359.7 1933.7V1938.1M474.2 1933.7V1938.1" fill="none" stroke="#5a5a5a" stroke-width="1.2"/>
<rect x="188" y="1945.9" width="45.5" height="10" fill="#000" stroke="#000" stroke-width="1.1"/>
<path d="M229.4 1950.9H237.1M229.4 1948.7V1953.1M237.1 1948.7V1953.1" fill="none" stroke="#5a5a5a" stroke-width="1.2"/>
<rect x="188" y="2001.3" width="120.6" height="10" fill="#fff" stroke="#111" stroke-width="1.1"/>
<path d="M304.3 2006.3H312.9M304.3 2004.1V2008.5M312.9 2004.1V2008.5" fill="none" stroke="#5a5a5a" stroke-width="1.2"/>
<rect x="188" y="2016" width="339.3" height="10" fill="#000" stroke="#000" stroke-width="1.1"/>
<path d="M519 2021H535M519 2018.8V2023.2M535 2018.8V2023.2" fill="none" stroke="#5a5a5a" stroke-width="1.2"/>
<rect x="187.4" y="1398.5" width="472.2" height="645.5" fill="none" stroke="#000" stroke-width="2.8"/>
<line x1="175.3" y1="1469.3" x2="187.4" y2="1469.3" stroke="#000" stroke-width="2.2"/>
<line x1="175.3" y1="1539.8" x2="187.4" y2="1539.8" stroke="#000" stroke-width="2.2"/>
<line x1="175.3" y1="1612.6" x2="187.4" y2="1612.6" stroke="#000" stroke-width="2.2"/>
<line x1="175.3" y1="1679" x2="187.4" y2="1679" stroke="#000" stroke-width="2.2"/>
<line x1="175.3" y1="1754.2" x2="187.4" y2="1754.2" stroke="#000" stroke-width="2.2"/>
<line x1="175.3" y1="1825" x2="187.4" y2="1825" stroke="#000" stroke-width="2.2"/>
<line x1="175.3" y1="1894.5" x2="187.4" y2="1894.5" stroke="#000" stroke-width="2.2"/>
<line x1="175.3" y1="1965.3" x2="187.4" y2="1965.3" stroke="#000" stroke-width="2.2"/>
<text transform="translate(191.7,1379.5) rotate(90) scale(1.020,1.080)" y="8.6" font-size="24" font-weight="bold" text-anchor="end" fill="#0a0a0a" stroke="#0a0a0a" stroke-width="0.3">0</text>
<text transform="translate(257.5,1379.5) rotate(90) scale(1.020,1.080)" y="8.6" font-size="24" font-weight="bold" text-anchor="end" fill="#0a0a0a" stroke="#0a0a0a" stroke-width="0.3">5</text>
<text transform="translate(321,1379.5) rotate(90) scale(1.020,1.080)" y="8.6" font-size="24" font-weight="bold" text-anchor="end" fill="#0a0a0a" stroke="#0a0a0a" stroke-width="0.3">10</text>
<text transform="translate(388,1379.5) rotate(90) scale(1.020,1.080)" y="8.6" font-size="24" font-weight="bold" text-anchor="end" fill="#0a0a0a" stroke="#0a0a0a" stroke-width="0.3">15</text>
<text transform="translate(457.9,1379.3) rotate(90) scale(1.020,1.080)" y="8.6" font-size="24" font-weight="bold" text-anchor="end" fill="#0a0a0a" stroke="#0a0a0a" stroke-width="0.3">20</text>
<text transform="translate(524.7,1379.3) rotate(90) scale(1.020,1.080)" y="8.6" font-size="24" font-weight="bold" text-anchor="end" fill="#0a0a0a" stroke="#0a0a0a" stroke-width="0.3">25</text>
<text transform="translate(591.5,1379) rotate(90) scale(1.020,1.080)" y="8.6" font-size="24" font-weight="bold" text-anchor="end" fill="#0a0a0a" stroke="#0a0a0a" stroke-width="0.3">30</text>
<text transform="translate(656.6,1378.5) rotate(90) scale(1.020,1.080)" y="8.6" font-size="24" font-weight="bold" text-anchor="end" fill="#0a0a0a" stroke="#0a0a0a" stroke-width="0.3">35</text>
<text transform="translate(428,1331.7)" y="0" font-size="24.6" font-weight="bold" text-anchor="middle" fill="#0a0a0a" stroke="#0a0a0a" stroke-width="0.3">Percentage</text>
<text transform="translate(16.2,1336.8) scale(1.020,1.000)" y="0" font-size="58.5" font-weight="bold" text-anchor="start" fill="#0a0a0a" stroke="#0a0a0a" stroke-width="0.3">B</text>
<text transform="translate(174,1443.3)" y="0" font-size="24" font-weight="bold" text-anchor="end" fill="#0a0a0a" stroke="#0a0a0a" stroke-width="0.3">FA 14:0</text>
<text transform="translate(174,1514.9)" y="0" font-size="24" font-weight="bold" text-anchor="end" fill="#0a0a0a" stroke="#0a0a0a" stroke-width="0.3">FA 15:0</text>
<text transform="translate(174,1585.9)" y="0" font-size="24" font-weight="bold" text-anchor="end" fill="#0a0a0a" stroke="#0a0a0a" stroke-width="0.3">FA 16:0</text>
<text transform="translate(174,1656.5)" y="0" font-size="24" font-weight="bold" text-anchor="end" fill="#0a0a0a" stroke="#0a0a0a" stroke-width="0.3">FA 16:1n7</text>
<text transform="translate(174,1727.1)" y="0" font-size="24" font-weight="bold" text-anchor="end" fill="#0a0a0a" stroke="#0a0a0a" stroke-width="0.3">FA 17:0</text>
<text transform="translate(174,1797.8)" y="0" font-size="24" font-weight="bold" text-anchor="end" fill="#0a0a0a" stroke="#0a0a0a" stroke-width="0.3">FA 17:0delta</text>
<text transform="translate(174,1868.7)" y="0" font-size="24" font-weight="bold" text-anchor="end" fill="#0a0a0a" stroke="#0a0a0a" stroke-width="0.3">FA 18:0</text>
<text transform="translate(174,1938)" y="0" font-size="24" font-weight="bold" text-anchor="end" fill="#0a0a0a" stroke="#0a0a0a" stroke-width="0.3">FA 18:1n7</text>
<text transform="translate(174,2016.3)" y="0" font-size="24" font-weight="bold" text-anchor="end" fill="#0a0a0a" stroke="#0a0a0a" stroke-width="0.3">FA 19:0delta</text>
<path d="M249.1 1413.9H262.5V1443.6H249.1" fill="none" stroke="#000" stroke-width="1.3"/>
<text transform="translate(271.9,1427.5) rotate(90)" y="9.9" font-size="19.5" font-weight="bold" text-anchor="middle" fill="#0a0a0a" letter-spacing="1.1">**</text>
<path d="M270.5 1443.6H286.6V1458H270.5" fill="none" stroke="#000" stroke-width="1.3"/>
<text transform="translate(298.2,1452.5) rotate(90)" y="9.9" font-size="19.5" font-weight="bold" text-anchor="middle" fill="#0a0a0a" letter-spacing="1.1">**</text>
<path d="M292.9 1484.4H308.6V1514.1H292.9" fill="none" stroke="#000" stroke-width="1.3"/>
<text transform="translate(317.3,1497.9) rotate(90)" y="9.9" font-size="19.5" font-weight="bold" text-anchor="middle" fill="#0a0a0a" letter-spacing="1.1">***</text>
<path d="M317.3 1514.4H332.6V1528.8H292.9" fill="none" stroke="#000" stroke-width="1.3"/>
<text transform="translate(340.7,1523) rotate(90)" y="9.9" font-size="19.5" font-weight="bold" text-anchor="middle" fill="#0a0a0a" letter-spacing="1.1">***</text>
<path d="M540.7 1624H556.4V1654H540.7" fill="none" stroke="#000" stroke-width="1.3"/>
<text transform="translate(564.7,1638.9) rotate(90)" y="9.9" font-size="19.5" font-weight="bold" text-anchor="middle" fill="#0a0a0a" letter-spacing="1.1">***</text>
<path d="M564.4 1654H580.1V1669H564.4" fill="none" stroke="#000" stroke-width="1.3"/>
<text transform="translate(591.8,1665.9) rotate(90)" y="9.9" font-size="19.5" font-weight="bold" text-anchor="middle" fill="#0a0a0a" letter-spacing="1.1">***</text>
<path d="M271.2 1764.9H290.9V1780.6H268.5" fill="none" stroke="#000" stroke-width="1.3"/>
<text transform="translate(298.9,1773.9) rotate(90)" y="9.9" font-size="19.5" font-weight="bold" text-anchor="middle" fill="#0a0a0a">*</text>
<path d="M423.1 1764.2H436.5V1794.3H423.1" fill="none" stroke="#000" stroke-width="1.3"/>
<text transform="translate(444.2,1779.8) rotate(90)" y="9.9" font-size="19.5" font-weight="bold" text-anchor="middle" fill="#0a0a0a" letter-spacing="1.1">***</text>
<path d="M483.9 1936.9H503.6V1951.2H483.9" fill="none" stroke="#000" stroke-width="1.3"/>
<text transform="translate(515,1945.1) rotate(90)" y="9.9" font-size="19.5" font-weight="bold" text-anchor="middle" fill="#0a0a0a" letter-spacing="1.1">**</text>
<path d="M525.7 1971.9H541V2006H525.7" fill="none" stroke="#000" stroke-width="1.3"/>
<text transform="translate(550,1988.6) rotate(90)" y="9.9" font-size="19.5" font-weight="bold" text-anchor="middle" fill="#0a0a0a">*</text>
<path d="M545.7 2006.3H565.4V2021.4H545.7" fill="none" stroke="#000" stroke-width="1.3"/>
<text transform="translate(577.4,2015.2) rotate(90)" y="9.9" font-size="19.5" font-weight="bold" text-anchor="middle" fill="#0a0a0a" letter-spacing="1.1">***</text>
<rect x="674.6" y="1548.5" width="34.6" height="34.4" fill="#dcdedd" stroke="#111" stroke-width="1.5"/>
<text transform="translate(717.6,1572.8)" y="0" font-size="24.4" font-weight="bold" text-anchor="start" fill="#0a0a0a" stroke="#0a0a0a" stroke-width="0.3">DA</text>
<rect x="674.6" y="1641.3" width="34.6" height="34.4" fill="#737373" stroke="#111" stroke-width="1.5"/>
<text transform="translate(719.6,1665.8)" y="0" font-size="24.4" font-weight="bold" text-anchor="start" fill="#0a0a0a" stroke="#0a0a0a" stroke-width="0.3">HG-DA</text>
<rect x="674.6" y="1733" width="34.6" height="34.4" fill="#fff" stroke="#111" stroke-width="1.5"/>
<text transform="translate(717,1757)" y="0" font-size="24.4" font-weight="bold" text-anchor="start" fill="#0a0a0a" stroke="#0a0a0a" stroke-width="0.3">OP</text>
<rect x="674.6" y="1813.5" width="34.6" height="34.4" fill="#000" stroke="#000" stroke-width="1.5"/>
<text transform="translate(716.8,1838.3)" y="0" font-size="24.4" font-weight="bold" text-anchor="start" fill="#0a0a0a" stroke="#0a0a0a" stroke-width="0.3">HG-OP</text>
<line x1="164.5" y1="2129.1" x2="701" y2="2129.1" stroke="#dedede" stroke-width="1.3"/>
<line x1="164.5" y1="2169.3" x2="701" y2="2169.3" stroke="#dedede" stroke-width="1.3"/>
<line x1="164.5" y1="2212.8" x2="701" y2="2212.8" stroke="#dedede" stroke-width="1.3"/>
<line x1="164.5" y1="2248.1" x2="701" y2="2248.1" stroke="#dedede" stroke-width="1.3"/>
<line x1="164.5" y1="2288.3" x2="701" y2="2288.3" stroke="#dedede" stroke-width="1.3"/>
<line x1="164.5" y1="2328.5" x2="701" y2="2328.5" stroke="#dedede" stroke-width="1.3"/>
<line x1="164.5" y1="2371.1" x2="701" y2="2371.1" stroke="#dedede" stroke-width="1.3"/>
<rect x="187" y="2170.9" width="26.9" height="240" fill="#dcdedd" stroke="#111" stroke-width="1.2"/>
<path d="M200.4 2162.9V2179.4M195.9 2162.9H204.9M195.9 2179.4H204.9" fill="none" stroke="#666" stroke-width="1.2"/>
<rect x="221.1" y="2162.9" width="27.3" height="248" fill="#737373" stroke="#111" stroke-width="1.2"/>
<path d="M234.8 2160.1V2165.3M230.3 2160.1H239.3M230.3 2165.3H239.3" fill="none" stroke="#666" stroke-width="1.2"/>
<rect x="255.3" y="2189" width="27.3" height="221.9" fill="#fff" stroke="#111" stroke-width="1.2"/>
<path d="M269 2176.2V2202.3M264.5 2176.2H273.5M264.5 2202.3H273.5" fill="none" stroke="#666" stroke-width="1.2"/>
<rect x="289.9" y="2187" width="27.3" height="223.9" fill="#000" stroke="#000" stroke-width="1.2"/>
<path d="M303.5 2183.8V2190.6M299 2183.8H308M299 2190.6H308" fill="none" stroke="#666" stroke-width="1.2"/>
<rect x="373.1" y="2257" width="26.9" height="153.9" fill="#dcdedd" stroke="#111" stroke-width="1.2"/>
<path d="M386.6 2249.7V2264.6M382.1 2249.7H391.1M382.1 2264.6H391.1" fill="none" stroke="#666" stroke-width="1.2"/>
<rect x="407.3" y="2262.6" width="26.9" height="148.3" fill="#737373" stroke="#111" stroke-width="1.2"/>
<path d="M420.7 2260.6V2264.2M416.2 2260.6H425.2M416.2 2264.2H425.2" fill="none" stroke="#666" stroke-width="1.2"/>
<rect x="441.4" y="2322.1" width="27.3" height="88.8" fill="#fff" stroke="#111" stroke-width="1.2"/>
<path d="M455.1 2305.6V2339.8M450.6 2305.6H459.6M450.6 2339.8H459.6" fill="none" stroke="#666" stroke-width="1.2"/>
<rect x="475.6" y="2396.9" width="27.3" height="14" fill="#000" stroke="#000" stroke-width="1.2"/>
<path d="M489.3 2395.7V2398.5M484.8 2395.7H493.8M484.8 2398.5H493.8" fill="none" stroke="#666" stroke-width="1.2"/>
<rect x="548" y="2389.6" width="26.9" height="21.3" fill="#dcdedd" stroke="#111" stroke-width="1.2"/>
<path d="M561.4 2388.4V2390.8M556.9 2388.4H565.9M556.9 2390.8H565.9" fill="none" stroke="#666" stroke-width="1.2"/>
<rect x="582.1" y="2391.6" width="27.3" height="19.3" fill="#737373" stroke="#111" stroke-width="1.2"/>
<path d="M595.8 2391.2V2392.4M591.3 2391.2H600.3M591.3 2392.4H600.3" fill="none" stroke="#666" stroke-width="1.2"/>
<rect x="616.7" y="2306" width="26.9" height="104.9" fill="#fff" stroke="#111" stroke-width="1.2"/>
<path d="M630.2 2302V2310.4M625.7 2302H634.7M625.7 2310.4H634.7" fill="none" stroke="#666" stroke-width="1.2"/>
<rect x="650.9" y="2233.3" width="27.3" height="177.6" fill="#000" stroke="#000" stroke-width="1.2"/>
<path d="M664.5 2230.8V2236.1M660 2230.8H669M660 2236.1H669" fill="none" stroke="#666" stroke-width="1.2"/>
<line x1="164.5" y1="2117.5" x2="164.5" y2="2414.5" stroke="#222" stroke-width="1.3"/>
<line x1="164.5" y1="2410.9" x2="701" y2="2410.9" stroke="#222" stroke-width="1.3"/>
<line x1="337.3" y1="2410.9" x2="337.3" y2="2417" stroke="#222" stroke-width="1.3"/>
<line x1="527.4" y1="2410.9" x2="527.4" y2="2417" stroke="#222" stroke-width="1.3"/>
<text transform="translate(154.8,2131.6)" y="0" font-size="21" font-weight="bold" text-anchor="end" fill="#0a0a0a" stroke="#0a0a0a" stroke-width="0.3">70</text>
<text transform="translate(154.8,2175.4)" y="0" font-size="21" font-weight="bold" text-anchor="end" fill="#0a0a0a" stroke="#0a0a0a" stroke-width="0.3">60</text>
<text transform="translate(154.8,2218)" y="0" font-size="21" font-weight="bold" text-anchor="end" fill="#0a0a0a" stroke="#0a0a0a" stroke-width="0.3">50</text>
<text transform="translate(154.8,2255)" y="0" font-size="21" font-weight="bold" text-anchor="end" fill="#0a0a0a" stroke="#0a0a0a" stroke-width="0.3">40</text>
<text transform="translate(154.8,2295.2)" y="0" font-size="21" font-weight="bold" text-anchor="end" fill="#0a0a0a" stroke="#0a0a0a" stroke-width="0.3">30</text>
<text transform="translate(154.8,2335.4)" y="0" font-size="21" font-weight="bold" text-anchor="end" fill="#0a0a0a" stroke="#0a0a0a" stroke-width="0.3">20</text>
<text transform="translate(154.8,2377.6)" y="0" font-size="21" font-weight="bold" text-anchor="end" fill="#0a0a0a" stroke="#0a0a0a" stroke-width="0.3">10</text>
<text transform="translate(154.8,2417)" y="0" font-size="21" font-weight="bold" text-anchor="end" fill="#0a0a0a" stroke="#0a0a0a" stroke-width="0.3">0</text>
<text transform="translate(428.4,2113.5)" y="0" font-size="25.3" font-weight="bold" text-anchor="middle" fill="#0a0a0a" stroke="#0a0a0a" stroke-width="0.3">Types of FAs</text>
<text transform="translate(106.3,2273) rotate(-90)" y="0" font-size="21.3" font-weight="bold" text-anchor="middle" fill="#0a0a0a" stroke="#0a0a0a" stroke-width="0.3">Percentage</text>
<text transform="translate(246.5,2437.9)" y="0" font-size="21.5" font-weight="bold" text-anchor="middle" fill="#0a0a0a" stroke="#0a0a0a" stroke-width="0.3">Saturated</text>
<text transform="translate(435.4,2437.9)" y="0" font-size="21.5" font-weight="bold" text-anchor="middle" fill="#0a0a0a" stroke="#0a0a0a" stroke-width="0.3">Monounsaturated</text>
<text transform="translate(620.7,2437.9)" y="0" font-size="21.5" font-weight="bold" text-anchor="middle" fill="#0a0a0a" stroke="#0a0a0a" stroke-width="0.3">Cyclopropane</text>
<path d="M387.6 2231.6V2212.8H454.7V2231.6" fill="none" stroke="#000" stroke-width="1.3"/>
<text transform="translate(421,2202.7)" y="10.4" font-size="20" font-weight="normal" text-anchor="middle" fill="#0a0a0a" letter-spacing="0.9">**</text>
<path d="M454.7 2290.7V2267.4H488.1V2290.7" fill="none" stroke="#000" stroke-width="1.3"/>
<text transform="translate(471.6,2258.2)" y="10.4" font-size="20" font-weight="normal" text-anchor="middle" fill="#0a0a0a" letter-spacing="0.9">**</text>
<path d="M562 2214.8V2196.3H631.2V2214.8" fill="none" stroke="#000" stroke-width="1.3"/>
<text transform="translate(596.2,2178.6)" y="10.4" font-size="20" font-weight="normal" text-anchor="middle" fill="#0a0a0a" letter-spacing="0.9">***</text>
<path d="M631.2 2181.8V2157.3H664.9V2181.8" fill="none" stroke="#000" stroke-width="1.3"/>
<text transform="translate(652.5,2144.4)" y="10.4" font-size="20" font-weight="normal" text-anchor="middle" fill="#0a0a0a" letter-spacing="0.9">***</text>
<path d="M561.6 2367.5V2343.8H597V2367.5" fill="none" stroke="#000" stroke-width="1.3"/>
<text transform="translate(578.9,2331.3)" y="10.4" font-size="20" font-weight="normal" text-anchor="middle" fill="#0a0a0a">*</text>
<rect x="1106.6" y="121.8" width="19.7" height="243.9" fill="#fff" stroke="#000" stroke-width="2.6"/>
<path d="M1116.5 109.1V134.4M1113.7 109.1H1119.3M1113.7 134.4H1119.3" fill="none" stroke="#505050" stroke-width="1.9"/>
<rect x="1146.2" y="206.9" width="19.7" height="158.8" fill="#b9bbb9" stroke="#000" stroke-width="2.6"/>
<path d="M1156 198.1V215.4M1153.2 198.1H1158.8M1153.2 215.4H1158.8" fill="none" stroke="#505050" stroke-width="1.9"/>
<rect x="1185.4" y="121.2" width="19.7" height="244.5" fill="#fff" stroke="#000" stroke-width="2.6"/>
<path d="M1195.2 103.2V138.9M1192.4 103.2H1198M1192.4 138.9H1198" fill="none" stroke="#505050" stroke-width="1.9"/>
<rect x="1224.6" y="123.2" width="19.4" height="242.5" fill="#b9bbb9" stroke="#000" stroke-width="2.6"/>
<path d="M1234.3 91.5V153.9M1231.5 91.5H1237.1M1231.5 153.9H1237.1" fill="none" stroke="#505050" stroke-width="1.9"/>
<rect x="1266.4" y="145.2" width="19.7" height="220.5" fill="#fff" stroke="#000" stroke-width="2.6"/>
<path d="M1276.2 138V153M1273.4 138H1279M1273.4 153H1279" fill="none" stroke="#505050" stroke-width="1.9"/>
<rect x="1305.9" y="132.6" width="19.1" height="233.1" fill="#b9bbb9" stroke="#000" stroke-width="2.6"/>
<path d="M1315.5 114.9V151.1M1312.7 114.9H1318.3M1312.7 151.1H1318.3" fill="none" stroke="#505050" stroke-width="1.9"/>
<rect x="1344.9" y="168.5" width="19.4" height="197.2" fill="#fff" stroke="#000" stroke-width="2.6"/>
<path d="M1354.6 128.8V208.4M1351.8 128.8H1357.4M1351.8 208.4H1357.4" fill="none" stroke="#505050" stroke-width="1.9"/>
<rect x="1384.1" y="125.7" width="19.4" height="240" fill="#b9bbb9" stroke="#000" stroke-width="2.6"/>
<path d="M1393.8 104.1V147.2M1391 104.1H1396.6M1391 147.2H1396.6" fill="none" stroke="#505050" stroke-width="1.9"/>
<rect x="1423.1" y="146.6" width="19.4" height="219.1" fill="#fff" stroke="#000" stroke-width="2.6"/>
<path d="M1432.8 131.1V161.1M1430 131.1H1435.6M1430 161.1H1435.6" fill="none" stroke="#505050" stroke-width="1.9"/>
<rect x="1459.2" y="129.3" width="19.1" height="236.4" fill="#b9bbb9" stroke="#000" stroke-width="2.6"/>
<path d="M1468.8 74V184.5M1466 74H1471.6M1466 184.5H1471.6" fill="none" stroke="#505050" stroke-width="1.9"/>
<line x1="1086.7" y1="67.4" x2="1086.7" y2="366.7" stroke="#000" stroke-width="2"/>
<line x1="1085.7" y1="365.7" x2="1494.4" y2="365.7" stroke="#000" stroke-width="2"/>
<line x1="1080.4" y1="68.4" x2="1086.7" y2="68.4" stroke="#000" stroke-width="2"/>
<text transform="translate(1079.3,75.7)" y="0" font-size="21.2" font-weight="bold" text-anchor="end" fill="#0a0a0a" stroke="#0a0a0a" stroke-width="0.3">2000</text>
<line x1="1080.4" y1="142.7" x2="1086.7" y2="142.7" stroke="#000" stroke-width="2"/>
<text transform="translate(1079.3,150)" y="0" font-size="21.2" font-weight="bold" text-anchor="end" fill="#0a0a0a" stroke="#0a0a0a" stroke-width="0.3">1500</text>
<line x1="1080.4" y1="217.3" x2="1086.7" y2="217.3" stroke="#000" stroke-width="2"/>
<text transform="translate(1079.3,224.6)" y="0" font-size="21.2" font-weight="bold" text-anchor="end" fill="#0a0a0a" stroke="#0a0a0a" stroke-width="0.3">1000</text>
<line x1="1080.4" y1="291.6" x2="1086.7" y2="291.6" stroke="#000" stroke-width="2"/>
<text transform="translate(1079.3,298.9)" y="0" font-size="21.2" font-weight="bold" text-anchor="end" fill="#0a0a0a" stroke="#0a0a0a" stroke-width="0.3">500</text>
<line x1="1080.4" y1="365.7" x2="1086.7" y2="365.7" stroke="#000" stroke-width="2"/>
<text transform="translate(1079.3,373)" y="0" font-size="21.2" font-weight="bold" text-anchor="end" fill="#0a0a0a" stroke="#0a0a0a" stroke-width="0.3">0</text>
<path d="M1116.5 96.3V45.6H1157.4V183.1" fill="none" stroke="#000" stroke-width="2.6"/>
<path d="M1195.2 94.3V45.6H1235.9V80.1" fill="none" stroke="#000" stroke-width="2.6"/>
<path d="M1274.8 125.5V45.6H1315.7V101" fill="none" stroke="#000" stroke-width="2.6"/>
<path d="M1357.2 115.2V45.6H1394.8V90.7" fill="none" stroke="#000" stroke-width="2.6"/>
<path d="M1434 122.7V45.6H1468.5V61.5" fill="none" stroke="#000" stroke-width="2.6"/>
<text transform="translate(1087,37.8)" y="0" font-size="15.8" font-weight="normal" text-anchor="start" fill="#0a0a0a"><tspan font-style="italic">P</tspan>=0.0000015</text>
<text transform="translate(1218.3,37.8)" y="0" font-size="15.8" font-weight="normal" text-anchor="middle" fill="#0a0a0a">n.s.</text>
<text transform="translate(1298.2,37.8)" y="0" font-size="15.8" font-weight="normal" text-anchor="middle" fill="#0a0a0a">n.s.</text>
<text transform="translate(1379.5,37.8)" y="0" font-size="15.8" font-weight="normal" text-anchor="middle" fill="#0a0a0a">n.s.</text>
<text transform="translate(1452.1,37.8)" y="0" font-size="15.8" font-weight="normal" text-anchor="middle" fill="#0a0a0a">n.s.</text>
<text transform="translate(988.6,334.7) rotate(-90)" y="0" font-size="22.6" font-weight="bold" text-anchor="start" fill="#0a0a0a" stroke="#0a0a0a" stroke-width="0.3">Total progeny produced</text>
<text transform="translate(1015.3,334.7) rotate(-90)" y="0" font-size="22.6" font-weight="bold" text-anchor="start" fill="#0a0a0a" stroke="#0a0a0a" stroke-width="0.3">by 5 worms</text>
<text transform="translate(1080,399.1)" y="0" font-size="19.5" font-weight="bold" text-anchor="end" fill="#0a0a0a" stroke="#0a0a0a" stroke-width="0.3">OP50 (%):</text>
<text transform="translate(1077,424.8)" y="0" font-size="19.5" font-weight="bold" text-anchor="end" fill="#0a0a0a" stroke="#0a0a0a" stroke-width="0.3">DA1877 (%):</text>
<text transform="translate(1073.3,450.5)" y="0" font-size="19.5" font-weight="bold" text-anchor="end" fill="#0a0a0a" stroke="#0a0a0a" stroke-width="0.3">100 mM glucose:</text>
<text transform="translate(1114,399.1)" y="0" font-size="19.5" font-weight="bold" text-anchor="middle" fill="#0a0a0a" stroke="#0a0a0a" stroke-width="0.3">100</text>
<text transform="translate(1114,424.8)" y="0" font-size="19.5" font-weight="bold" text-anchor="middle" fill="#0a0a0a" stroke="#0a0a0a" stroke-width="0.3">0</text>
<text transform="translate(1114,450.5)" y="0" font-size="19.5" font-weight="bold" text-anchor="middle" fill="#0a0a0a" stroke="#0a0a0a" stroke-width="0.3">-</text>
<text transform="translate(1154.2,399.1)" y="0" font-size="19.5" font-weight="bold" text-anchor="middle" fill="#0a0a0a" stroke="#0a0a0a" stroke-width="0.3">100</text>
<text transform="translate(1154.2,424.8)" y="0" font-size="19.5" font-weight="bold" text-anchor="middle" fill="#0a0a0a" stroke="#0a0a0a" stroke-width="0.3">0</text>
<text transform="translate(1154.2,450.5)" y="0" font-size="19.5" font-weight="bold" text-anchor="middle" fill="#0a0a0a" stroke="#0a0a0a" stroke-width="0.3">+</text>
<text transform="translate(1192.2,399.1)" y="0" font-size="19.5" font-weight="bold" text-anchor="middle" fill="#0a0a0a" stroke="#0a0a0a" stroke-width="0.3">0</text>
<text transform="translate(1192.2,424.8)" y="0" font-size="19.5" font-weight="bold" text-anchor="middle" fill="#0a0a0a" stroke="#0a0a0a" stroke-width="0.3">100</text>
<text transform="translate(1192.2,450.5)" y="0" font-size="19.5" font-weight="bold" text-anchor="middle" fill="#0a0a0a" stroke="#0a0a0a" stroke-width="0.3">-</text>
<text transform="translate(1232.1,399.1)" y="0" font-size="19.5" font-weight="bold" text-anchor="middle" fill="#0a0a0a" stroke="#0a0a0a" stroke-width="0.3">0</text>
<text transform="translate(1232.1,424.8)" y="0" font-size="19.5" font-weight="bold" text-anchor="middle" fill="#0a0a0a" stroke="#0a0a0a" stroke-width="0.3">100</text>
<text transform="translate(1232.1,450.5)" y="0" font-size="19.5" font-weight="bold" text-anchor="middle" fill="#0a0a0a" stroke="#0a0a0a" stroke-width="0.3">+</text>
<text transform="translate(1275.8,399.1)" y="0" font-size="19.5" font-weight="bold" text-anchor="middle" fill="#0a0a0a" stroke="#0a0a0a" stroke-width="0.3">50</text>
<text transform="translate(1275.8,424.8)" y="0" font-size="19.5" font-weight="bold" text-anchor="middle" fill="#0a0a0a" stroke="#0a0a0a" stroke-width="0.3">50</text>
<text transform="translate(1275.8,450.5)" y="0" font-size="19.5" font-weight="bold" text-anchor="middle" fill="#0a0a0a" stroke="#0a0a0a" stroke-width="0.3">-</text>
<text transform="translate(1312.6,399.1)" y="0" font-size="19.5" font-weight="bold" text-anchor="middle" fill="#0a0a0a" stroke="#0a0a0a" stroke-width="0.3">50</text>
<text transform="translate(1312.6,424.8)" y="0" font-size="19.5" font-weight="bold" text-anchor="middle" fill="#0a0a0a" stroke="#0a0a0a" stroke-width="0.3">50</text>
<text transform="translate(1312.6,450.5)" y="0" font-size="19.5" font-weight="bold" text-anchor="middle" fill="#0a0a0a" stroke="#0a0a0a" stroke-width="0.3">+</text>
<text transform="translate(1352.8,399.1)" y="0" font-size="19.5" font-weight="bold" text-anchor="middle" fill="#0a0a0a" stroke="#0a0a0a" stroke-width="0.3">75</text>
<text transform="translate(1352.8,424.8)" y="0" font-size="19.5" font-weight="bold" text-anchor="middle" fill="#0a0a0a" stroke="#0a0a0a" stroke-width="0.3">25</text>
<text transform="translate(1352.8,450.5)" y="0" font-size="19.5" font-weight="bold" text-anchor="middle" fill="#0a0a0a" stroke="#0a0a0a" stroke-width="0.3">-</text>
<text transform="translate(1393.1,399.1)" y="0" font-size="19.5" font-weight="bold" text-anchor="middle" fill="#0a0a0a" stroke="#0a0a0a" stroke-width="0.3">75</text>
<text transform="translate(1393.1,424.8)" y="0" font-size="19.5" font-weight="bold" text-anchor="middle" fill="#0a0a0a" stroke="#0a0a0a" stroke-width="0.3">25</text>
<text transform="translate(1393.1,450.5)" y="0" font-size="19.5" font-weight="bold" text-anchor="middle" fill="#0a0a0a" stroke="#0a0a0a" stroke-width="0.3">+</text>
<text transform="translate(1433,399.1)" y="0" font-size="19.5" font-weight="bold" text-anchor="middle" fill="#0a0a0a" stroke="#0a0a0a" stroke-width="0.3">90</text>
<text transform="translate(1433,424.8)" y="0" font-size="19.5" font-weight="bold" text-anchor="middle" fill="#0a0a0a" stroke="#0a0a0a" stroke-width="0.3">10</text>
<text transform="translate(1433,450.5)" y="0" font-size="19.5" font-weight="bold" text-anchor="middle" fill="#0a0a0a" stroke="#0a0a0a" stroke-width="0.3">-</text>
<text transform="translate(1466.3,399.1)" y="0" font-size="19.5" font-weight="bold" text-anchor="middle" fill="#0a0a0a" stroke="#0a0a0a" stroke-width="0.3">90</text>
<text transform="translate(1466.3,424.8)" y="0" font-size="19.5" font-weight="bold" text-anchor="middle" fill="#0a0a0a" stroke="#0a0a0a" stroke-width="0.3">10</text>
<text transform="translate(1466.3,450.5)" y="0" font-size="19.5" font-weight="bold" text-anchor="middle" fill="#0a0a0a" stroke="#0a0a0a" stroke-width="0.3">+</text>
<text transform="translate(873,45.2)" y="0" font-size="56.5" font-weight="bold" text-anchor="start" fill="#0a0a0a" stroke="#0a0a0a" stroke-width="0.3">C</text>
<line x1="1106.2" y1="583.9" x2="1106.2" y2="2000.6" stroke="#dcdcdc" stroke-width="1.2"/>
<line x1="1170.3" y1="583.9" x2="1170.3" y2="2000.6" stroke="#dcdcdc" stroke-width="1.2"/>
<line x1="1230.2" y1="583.9" x2="1230.2" y2="2000.6" stroke="#dcdcdc" stroke-width="1.2"/>
<line x1="1287.1" y1="583.9" x2="1287.1" y2="2000.6" stroke="#dcdcdc" stroke-width="1.2"/>
<line x1="1350.6" y1="583.9" x2="1350.6" y2="2000.6" stroke="#dcdcdc" stroke-width="1.2"/>
<line x1="1412.8" y1="583.9" x2="1412.8" y2="595.9" stroke="#dcdcdc" stroke-width="1.2"/>
<rect x="1038.5" y="597.3" width="16.1" height="10" fill="#fff" stroke="#222" stroke-width="1"/>
<path d="M1052.4 602.3H1058.8M1052.4 599.8V604.8M1058.8 599.8V604.8" fill="none" stroke="#0a0a0a" stroke-width="1.5"/>
<rect x="1038.5" y="610.7" width="23.6" height="10" fill="#000" stroke="#000" stroke-width="1"/>
<path d="M1060.2 615.7H1064.6M1060.2 613.2V618.2M1064.6 613.2V618.2" fill="none" stroke="#0a0a0a" stroke-width="1.5"/>
<rect x="1038.5" y="624.1" width="17.5" height="10" fill="#f9ee3a" stroke="#222" stroke-width="1"/>
<path d="M1055.4 629.1H1056.6M1055.4 626.6V631.6M1056.6 626.6V631.6" fill="none" stroke="#0a0a0a" stroke-width="1.5"/>
<rect x="1038.5" y="637.2" width="17.5" height="10" fill="#5fa2dd" stroke="#222" stroke-width="1"/>
<path d="M1054.6 642.2H1057.9M1054.6 639.7V644.7M1057.9 639.7V644.7" fill="none" stroke="#0a0a0a" stroke-width="1.5"/>
<rect x="1038.5" y="657.5" width="38.4" height="10" fill="#fff" stroke="#222" stroke-width="1"/>
<path d="M1072.7 662.5H1081.4M1072.7 660V665M1081.4 660V665" fill="none" stroke="#0a0a0a" stroke-width="1.5"/>
<rect x="1038.5" y="671.5" width="43.4" height="10" fill="#000" stroke="#000" stroke-width="1"/>
<path d="M1081.1 676.5H1082.8M1081.1 674V679M1082.8 674V679" fill="none" stroke="#0a0a0a" stroke-width="1.5"/>
<rect x="1038.5" y="684.6" width="49" height="10" fill="#f9ee3a" stroke="#222" stroke-width="1"/>
<path d="M1086.7 689.6H1088.6M1086.7 687.1V692.1M1088.6 687.1V692.1" fill="none" stroke="#0a0a0a" stroke-width="1.5"/>
<rect x="1038.5" y="698" width="47" height="10" fill="#5fa2dd" stroke="#222" stroke-width="1"/>
<path d="M1081.1 703H1091.1M1081.1 700.5V705.5M1091.1 700.5V705.5" fill="none" stroke="#0a0a0a" stroke-width="1.5"/>
<rect x="1038.5" y="718.9" width="106.1" height="10" fill="#fff" stroke="#222" stroke-width="1"/>
<path d="M1137.7 723.9H1151.9M1137.7 721.4V726.4M1151.9 721.4V726.4" fill="none" stroke="#0a0a0a" stroke-width="1.5"/>
<rect x="1038.5" y="732.3" width="119.2" height="10" fill="#000" stroke="#000" stroke-width="1"/>
<path d="M1157.7 737.3H1166.9M1157.7 734.8V739.8M1166.9 734.8V739.8" fill="none" stroke="#0a0a0a" stroke-width="1.5"/>
<rect x="1038.5" y="745.9" width="106.1" height="10" fill="#f9ee3a" stroke="#222" stroke-width="1"/>
<path d="M1143.8 750.9H1145.5M1143.8 748.4V753.4M1145.5 748.4V753.4" fill="none" stroke="#0a0a0a" stroke-width="1.5"/>
<rect x="1038.5" y="759" width="107.5" height="10" fill="#5fa2dd" stroke="#222" stroke-width="1"/>
<path d="M1143.8 764H1149.1M1143.8 761.5V766.5M1149.1 761.5V766.5" fill="none" stroke="#0a0a0a" stroke-width="1.5"/>
<rect x="1038.5" y="780.2" width="37.8" height="10" fill="#fff" stroke="#222" stroke-width="1"/>
<path d="M1075.5 785.2H1076.9M1075.5 782.7V787.7M1076.9 782.7V787.7" fill="none" stroke="#0a0a0a" stroke-width="1.5"/>
<rect x="1038.5" y="793.6" width="29.2" height="10" fill="#000" stroke="#000" stroke-width="1"/>
<path d="M1065.7 798.6H1069.9M1065.7 796.1V801.1M1069.9 796.1V801.1" fill="none" stroke="#0a0a0a" stroke-width="1.5"/>
<rect x="1038.5" y="806.7" width="59.3" height="10" fill="#f9ee3a" stroke="#222" stroke-width="1"/>
<path d="M1096.4 811.7H1099.2M1096.4 809.2V814.2M1099.2 809.2V814.2" fill="none" stroke="#0a0a0a" stroke-width="1.5"/>
<rect x="1038.5" y="820.1" width="60.7" height="10" fill="#5fa2dd" stroke="#222" stroke-width="1"/>
<path d="M1097.5 825.1H1101.1M1097.5 822.6V827.6M1101.1 822.6V827.6" fill="none" stroke="#0a0a0a" stroke-width="1.5"/>
<rect x="1038.5" y="841" width="20.3" height="10" fill="#fff" stroke="#222" stroke-width="1"/>
<path d="M1058.2 846H1059.3M1058.2 843.5V848.5M1059.3 843.5V848.5" fill="none" stroke="#0a0a0a" stroke-width="1.5"/>
<rect x="1038.5" y="854.9" width="13.3" height="10" fill="#000" stroke="#000" stroke-width="1"/>
<path d="M1051.3 859.9H1052.4M1051.3 857.4V862.4M1052.4 857.4V862.4" fill="none" stroke="#0a0a0a" stroke-width="1.5"/>
<rect x="1038.5" y="867.7" width="17.8" height="10" fill="#f9ee3a" stroke="#222" stroke-width="1"/>
<path d="M1056.3 872.7H1075.2M1056.3 870.2V875.2M1075.2 870.2V875.2" fill="none" stroke="#0a0a0a" stroke-width="1.5"/>
<rect x="1038.5" y="881.1" width="6.3" height="10" fill="#5fa2dd" stroke="#222" stroke-width="1"/>
<path d="M1044.3 886.1H1045.4M1044.3 883.6V888.6M1045.4 883.6V888.6" fill="none" stroke="#0a0a0a" stroke-width="1.5"/>
<rect x="1038.5" y="902" width="42.3" height="10" fill="#fff" stroke="#222" stroke-width="1"/>
<path d="M1080.2 907H1081.4M1080.2 904.5V909.5M1081.4 904.5V909.5" fill="none" stroke="#0a0a0a" stroke-width="1.5"/>
<rect x="1038.5" y="915.4" width="39" height="10" fill="#000" stroke="#000" stroke-width="1"/>
<path d="M1076.9 920.4H1078M1076.9 917.9V922.9M1078 917.9V922.9" fill="none" stroke="#0a0a0a" stroke-width="1.5"/>
<rect x="1038.5" y="928.8" width="49.3" height="10" fill="#f9ee3a" stroke="#222" stroke-width="1"/>
<path d="M1083.9 933.8H1092M1083.9 931.3V936.3M1092 931.3V936.3" fill="none" stroke="#0a0a0a" stroke-width="1.5"/>
<rect x="1038.5" y="942.1" width="49.5" height="10" fill="#5fa2dd" stroke="#222" stroke-width="1"/>
<path d="M1083 947.1H1093.6M1083 944.6V949.6M1093.6 944.6V949.6" fill="none" stroke="#0a0a0a" stroke-width="1.5"/>
<rect x="1038.5" y="962.8" width="118.7" height="10" fill="#fff" stroke="#222" stroke-width="1"/>
<path d="M1150.2 967.8H1164.7M1150.2 965.3V970.3M1164.7 965.3V970.3" fill="none" stroke="#0a0a0a" stroke-width="1.5"/>
<rect x="1038.5" y="976.2" width="147.4" height="10" fill="#000" stroke="#000" stroke-width="1"/>
<path d="M1185.9 981.2H1199.5M1185.9 978.7V983.7M1199.5 978.7V983.7" fill="none" stroke="#0a0a0a" stroke-width="1.5"/>
<rect x="1038.5" y="989.8" width="95.5" height="10" fill="#f9ee3a" stroke="#222" stroke-width="1"/>
<path d="M1133.2 994.8H1134.9M1133.2 992.3V997.3M1134.9 992.3V997.3" fill="none" stroke="#0a0a0a" stroke-width="1.5"/>
<rect x="1038.5" y="1002.9" width="95.5" height="10" fill="#5fa2dd" stroke="#222" stroke-width="1"/>
<path d="M1128.2 1007.9H1141M1128.2 1005.4V1010.4M1141 1005.4V1010.4" fill="none" stroke="#0a0a0a" stroke-width="1.5"/>
<rect x="1038.5" y="1023.8" width="125.6" height="10" fill="#fff" stroke="#222" stroke-width="1"/>
<path d="M1161.9 1028.8H1166.7M1161.9 1026.3V1031.3M1166.7 1026.3V1031.3" fill="none" stroke="#0a0a0a" stroke-width="1.5"/>
<rect x="1038.5" y="1037.2" width="137.9" height="10" fill="#000" stroke="#000" stroke-width="1"/>
<path d="M1176.4 1042.2H1183.4M1176.4 1039.7V1044.7M1183.4 1039.7V1044.7" fill="none" stroke="#0a0a0a" stroke-width="1.5"/>
<rect x="1038.5" y="1050.6" width="126.8" height="10" fill="#f9ee3a" stroke="#222" stroke-width="1"/>
<path d="M1162.8 1055.6H1168.3M1162.8 1053.1V1058.1M1168.3 1053.1V1058.1" fill="none" stroke="#0a0a0a" stroke-width="1.5"/>
<rect x="1038.5" y="1064" width="124.3" height="10" fill="#5fa2dd" stroke="#222" stroke-width="1"/>
<path d="M1156.9 1069H1168.9M1156.9 1066.5V1071.5M1168.9 1066.5V1071.5" fill="none" stroke="#0a0a0a" stroke-width="1.5"/>
<rect x="1038.5" y="1084.9" width="232.7" height="10" fill="#fff" stroke="#222" stroke-width="1"/>
<path d="M1267 1089.9H1274.8M1267 1087.4V1092.4M1274.8 1087.4V1092.4" fill="none" stroke="#0a0a0a" stroke-width="1.5"/>
<rect x="1038.5" y="1098.5" width="90.8" height="10" fill="#000" stroke="#000" stroke-width="1"/>
<path d="M1127.1 1103.5H1131.5M1127.1 1101V1106M1131.5 1101V1106" fill="none" stroke="#0a0a0a" stroke-width="1.5"/>
<rect x="1038.5" y="1111.9" width="196.7" height="10" fill="#f9ee3a" stroke="#222" stroke-width="1"/>
<path d="M1227.4 1116.9H1243.6M1227.4 1114.4V1119.4M1243.6 1114.4V1119.4" fill="none" stroke="#0a0a0a" stroke-width="1.5"/>
<rect x="1038.5" y="1125" width="200.6" height="10" fill="#5fa2dd" stroke="#222" stroke-width="1"/>
<path d="M1238 1130H1240.2M1238 1127.5V1132.5M1240.2 1127.5V1132.5" fill="none" stroke="#0a0a0a" stroke-width="1.5"/>
<rect x="1038.5" y="1145.7" width="34.2" height="10" fill="#fff" stroke="#222" stroke-width="1"/>
<path d="M1071.9 1150.7H1073.6M1071.9 1148.2V1153.2M1073.6 1148.2V1153.2" fill="none" stroke="#0a0a0a" stroke-width="1.5"/>
<rect x="1038.5" y="1159.4" width="55.4" height="10" fill="#000" stroke="#000" stroke-width="1"/>
<path d="M1093.9 1164.4H1098.1M1093.9 1161.9V1166.9M1098.1 1161.9V1166.9" fill="none" stroke="#0a0a0a" stroke-width="1.5"/>
<rect x="1038.5" y="1172.8" width="54.6" height="10" fill="#f9ee3a" stroke="#222" stroke-width="1"/>
<path d="M1089.7 1177.8H1096.4M1089.7 1175.3V1180.3M1096.4 1175.3V1180.3" fill="none" stroke="#0a0a0a" stroke-width="1.5"/>
<rect x="1038.5" y="1186.2" width="55.1" height="10" fill="#5fa2dd" stroke="#222" stroke-width="1"/>
<path d="M1092.8 1191.2H1094.5M1092.8 1188.7V1193.7M1094.5 1188.7V1193.7" fill="none" stroke="#0a0a0a" stroke-width="1.5"/>
<rect x="1038.5" y="1207.1" width="66.8" height="10" fill="#fff" stroke="#222" stroke-width="1"/>
<path d="M1104.5 1212.1H1106.2M1104.5 1209.6V1214.6M1106.2 1209.6V1214.6" fill="none" stroke="#0a0a0a" stroke-width="1.5"/>
<rect x="1038.5" y="1220.7" width="86.6" height="10" fill="#000" stroke="#000" stroke-width="1"/>
<path d="M1125.1 1225.7H1131.5M1125.1 1223.2V1228.2M1131.5 1223.2V1228.2" fill="none" stroke="#0a0a0a" stroke-width="1.5"/>
<rect x="1038.5" y="1233.8" width="93" height="10" fill="#f9ee3a" stroke="#222" stroke-width="1"/>
<path d="M1129 1238.8H1134.3M1129 1236.3V1241.3M1134.3 1236.3V1241.3" fill="none" stroke="#0a0a0a" stroke-width="1.5"/>
<rect x="1038.5" y="1247.2" width="95" height="10" fill="#5fa2dd" stroke="#222" stroke-width="1"/>
<path d="M1132.6 1252.2H1134.3M1132.6 1249.7V1254.7M1134.3 1249.7V1254.7" fill="none" stroke="#0a0a0a" stroke-width="1.5"/>
<rect x="1038.5" y="1268.1" width="18.1" height="10" fill="#fff" stroke="#222" stroke-width="1"/>
<path d="M1056 1273.1H1057.1M1056 1270.6V1275.6M1057.1 1270.6V1275.6" fill="none" stroke="#0a0a0a" stroke-width="1.5"/>
<rect x="1038.5" y="1281.8" width="20.3" height="10" fill="#000" stroke="#000" stroke-width="1"/>
<path d="M1058.2 1286.8H1059.6M1058.2 1284.3V1289.3M1059.6 1284.3V1289.3" fill="none" stroke="#0a0a0a" stroke-width="1.5"/>
<rect x="1038.5" y="1295.1" width="13.3" height="10" fill="#f9ee3a" stroke="#222" stroke-width="1"/>
<path d="M1051.3 1300.1H1052.4M1051.3 1297.6V1302.6M1052.4 1297.6V1302.6" fill="none" stroke="#0a0a0a" stroke-width="1.5"/>
<rect x="1038.5" y="1308.2" width="13.6" height="10" fill="#5fa2dd" stroke="#222" stroke-width="1"/>
<path d="M1051.5 1313.2H1052.6M1051.5 1310.7V1315.7M1052.6 1310.7V1315.7" fill="none" stroke="#0a0a0a" stroke-width="1.5"/>
<rect x="1038.5" y="1329.2" width="6.9" height="10" fill="#fff" stroke="#222" stroke-width="1"/>
<path d="M1042.9 1334.2H1047.6M1042.9 1331.7V1336.7M1047.6 1331.7V1336.7" fill="none" stroke="#0a0a0a" stroke-width="1.5"/>
<rect x="1038.5" y="1342.8" width="9.1" height="10" fill="#000" stroke="#000" stroke-width="1"/>
<path d="M1047.1 1347.8H1048.2M1047.1 1345.3V1350.3M1048.2 1345.3V1350.3" fill="none" stroke="#0a0a0a" stroke-width="1.5"/>
<rect x="1038.5" y="1356.2" width="8.6" height="10" fill="#f9ee3a" stroke="#222" stroke-width="1"/>
<path d="M1046.5 1361.2H1047.9M1046.5 1358.7V1363.7M1047.9 1358.7V1363.7" fill="none" stroke="#0a0a0a" stroke-width="1.5"/>
<rect x="1038.5" y="1369.3" width="7.2" height="10" fill="#5fa2dd" stroke="#222" stroke-width="1"/>
<path d="M1044.8 1374.3H1046.8M1044.8 1371.8V1376.8M1046.8 1371.8V1376.8" fill="none" stroke="#0a0a0a" stroke-width="1.5"/>
<rect x="1038.5" y="1390.2" width="8.3" height="10" fill="#fff" stroke="#222" stroke-width="1"/>
<path d="M1046.2 1395.2H1047.6M1046.2 1392.7V1397.7M1047.6 1392.7V1397.7" fill="none" stroke="#0a0a0a" stroke-width="1.5"/>
<rect x="1038.5" y="1403.9" width="6.9" height="10" fill="#000" stroke="#000" stroke-width="1"/>
<path d="M1044.8 1408.9H1046M1044.8 1406.4V1411.4M1046 1406.4V1411.4" fill="none" stroke="#0a0a0a" stroke-width="1.5"/>
<rect x="1038.5" y="1417" width="8" height="10" fill="#f9ee3a" stroke="#222" stroke-width="1"/>
<path d="M1046 1422H1047.4M1046 1419.5V1424.5M1047.4 1419.5V1424.5" fill="none" stroke="#0a0a0a" stroke-width="1.5"/>
<rect x="1038.5" y="1430.3" width="8.3" height="10" fill="#5fa2dd" stroke="#222" stroke-width="1"/>
<path d="M1046.2 1435.3H1047.6M1046.2 1432.8V1437.8M1047.6 1432.8V1437.8" fill="none" stroke="#0a0a0a" stroke-width="1.5"/>
<rect x="1038.5" y="1451" width="64" height="10" fill="#fff" stroke="#222" stroke-width="1"/>
<path d="M1099.2 1456H1105.9M1099.2 1453.5V1458.5M1105.9 1453.5V1458.5" fill="none" stroke="#0a0a0a" stroke-width="1.5"/>
<rect x="1038.5" y="1464.6" width="148.8" height="10" fill="#000" stroke="#000" stroke-width="1"/>
<path d="M1187.3 1469.6H1197.3M1187.3 1467.1V1472.1M1197.3 1467.1V1472.1" fill="none" stroke="#0a0a0a" stroke-width="1.5"/>
<rect x="1038.5" y="1478" width="80.8" height="10" fill="#f9ee3a" stroke="#222" stroke-width="1"/>
<path d="M1115.4 1483H1122.6M1115.4 1480.5V1485.5M1122.6 1480.5V1485.5" fill="none" stroke="#0a0a0a" stroke-width="1.5"/>
<rect x="1038.5" y="1491.4" width="79.4" height="10" fill="#5fa2dd" stroke="#222" stroke-width="1"/>
<path d="M1111.5 1496.4H1124.3M1111.5 1493.9V1498.9M1124.3 1493.9V1498.9" fill="none" stroke="#0a0a0a" stroke-width="1.5"/>
<rect x="1038.5" y="1512" width="11.6" height="10" fill="#fff" stroke="#222" stroke-width="1"/>
<path d="M1049.6 1517H1050.7M1049.6 1514.5V1519.5M1050.7 1514.5V1519.5" fill="none" stroke="#0a0a0a" stroke-width="1.5"/>
<rect x="1038.5" y="1525.7" width="4.9" height="10" fill="#000" stroke="#000" stroke-width="1"/>
<path d="M1042.9 1530.7H1044M1042.9 1528.2V1533.2M1044 1528.2V1533.2" fill="none" stroke="#0a0a0a" stroke-width="1.5"/>
<rect x="1038.5" y="1539" width="8" height="10" fill="#f9ee3a" stroke="#222" stroke-width="1"/>
<path d="M1046 1544H1047.4M1046 1541.5V1546.5M1047.4 1541.5V1546.5" fill="none" stroke="#0a0a0a" stroke-width="1.5"/>
<rect x="1038.5" y="1552.1" width="8.3" height="10" fill="#5fa2dd" stroke="#222" stroke-width="1"/>
<path d="M1046.2 1557.1H1047.6M1046.2 1554.6V1559.6M1047.6 1554.6V1559.6" fill="none" stroke="#0a0a0a" stroke-width="1.5"/>
<rect x="1038.5" y="1573.1" width="8.9" height="10" fill="#fff" stroke="#222" stroke-width="1"/>
<path d="M1046.2 1578.1H1048.5M1046.2 1575.6V1580.6M1048.5 1575.6V1580.6" fill="none" stroke="#0a0a0a" stroke-width="1.5"/>
<rect x="1038.5" y="1586.7" width="16.1" height="10" fill="#000" stroke="#000" stroke-width="1"/>
<path d="M1054.6 1591.7H1057.4M1054.6 1589.2V1594.2M1057.4 1589.2V1594.2" fill="none" stroke="#0a0a0a" stroke-width="1.5"/>
<rect x="1038.5" y="1600.1" width="11.1" height="10" fill="#f9ee3a" stroke="#222" stroke-width="1"/>
<path d="M1049 1605.1H1050.4M1049 1602.6V1607.6M1050.4 1602.6V1607.6" fill="none" stroke="#0a0a0a" stroke-width="1.5"/>
<rect x="1038.5" y="1613.5" width="11.6" height="10" fill="#5fa2dd" stroke="#222" stroke-width="1"/>
<path d="M1049.3 1618.5H1051M1049.3 1616V1621M1051 1616V1621" fill="none" stroke="#0a0a0a" stroke-width="1.5"/>
<rect x="1038.5" y="1634.1" width="5.5" height="10" fill="#fff" stroke="#222" stroke-width="1"/>
<path d="M1043.4 1639.1H1044.8M1043.4 1636.6V1641.6M1044.8 1636.6V1641.6" fill="none" stroke="#0a0a0a" stroke-width="1.5"/>
<rect x="1038.5" y="1647.5" width="12.2" height="10" fill="#000" stroke="#000" stroke-width="1"/>
<path d="M1050.1 1652.5H1051.3M1050.1 1650V1655M1051.3 1650V1655" fill="none" stroke="#0a0a0a" stroke-width="1.5"/>
<rect x="1038.5" y="1660.9" width="11.1" height="10" fill="#f9ee3a" stroke="#222" stroke-width="1"/>
<path d="M1049 1665.9H1050.4M1049 1663.4V1668.4M1050.4 1663.4V1668.4" fill="none" stroke="#0a0a0a" stroke-width="1.5"/>
<rect x="1038.5" y="1674.2" width="11.1" height="10" fill="#5fa2dd" stroke="#222" stroke-width="1"/>
<path d="M1048.7 1679.2H1050.4M1048.7 1676.7V1681.7M1050.4 1676.7V1681.7" fill="none" stroke="#0a0a0a" stroke-width="1.5"/>
<rect x="1038.5" y="1695" width="39.1" height="10" fill="#fff" stroke="#222" stroke-width="1"/>
<path d="M1074.6 1700H1081M1074.6 1697.5V1702.5M1081 1697.5V1702.5" fill="none" stroke="#0a0a0a" stroke-width="1.5"/>
<rect x="1038.5" y="1708.7" width="35" height="10" fill="#000" stroke="#000" stroke-width="1"/>
<path d="M1073.5 1713.7H1076.2M1073.5 1711.2V1716.2M1076.2 1711.2V1716.2" fill="none" stroke="#0a0a0a" stroke-width="1.5"/>
<rect x="1038.5" y="1722" width="26" height="10" fill="#f9ee3a" stroke="#222" stroke-width="1"/>
<path d="M1064 1727H1065.1M1064 1724.5V1729.5M1065.1 1724.5V1729.5" fill="none" stroke="#0a0a0a" stroke-width="1.5"/>
<rect x="1038.5" y="1735.4" width="27.4" height="10" fill="#5fa2dd" stroke="#222" stroke-width="1"/>
<path d="M1065.4 1740.4H1066.5M1065.4 1737.9V1742.9M1066.5 1737.9V1742.9" fill="none" stroke="#0a0a0a" stroke-width="1.5"/>
<rect x="1038.5" y="1756" width="55.8" height="10" fill="#fff" stroke="#222" stroke-width="1"/>
<path d="M1091.5 1761H1097.7M1091.5 1758.5V1763.5M1097.7 1758.5V1763.5" fill="none" stroke="#0a0a0a" stroke-width="1.5"/>
<rect x="1038.5" y="1769.6" width="48.6" height="10" fill="#000" stroke="#000" stroke-width="1"/>
<path d="M1087.1 1774.6H1090.7M1087.1 1772.1V1777.1M1090.7 1772.1V1777.1" fill="none" stroke="#0a0a0a" stroke-width="1.5"/>
<rect x="1038.5" y="1783" width="37.7" height="10" fill="#f9ee3a" stroke="#222" stroke-width="1"/>
<path d="M1073.5 1788H1079M1073.5 1785.5V1790.5M1079 1785.5V1790.5" fill="none" stroke="#0a0a0a" stroke-width="1.5"/>
<rect x="1038.5" y="1796.3" width="39.4" height="10" fill="#5fa2dd" stroke="#222" stroke-width="1"/>
<path d="M1076.2 1801.3H1080.1M1076.2 1798.8V1803.8M1080.1 1798.8V1803.8" fill="none" stroke="#0a0a0a" stroke-width="1.5"/>
<rect x="1038.5" y="1816.9" width="18.3" height="10" fill="#fff" stroke="#222" stroke-width="1"/>
<path d="M1056.2 1821.9H1057.3M1056.2 1819.4V1824.4M1057.3 1819.4V1824.4" fill="none" stroke="#0a0a0a" stroke-width="1.5"/>
<rect x="1038.5" y="1830.6" width="14.6" height="10" fill="#000" stroke="#000" stroke-width="1"/>
<path d="M1052.6 1835.6H1053.7M1052.6 1833.1V1838.1M1053.7 1833.1V1838.1" fill="none" stroke="#0a0a0a" stroke-width="1.5"/>
<rect x="1038.5" y="1843.9" width="15.5" height="10" fill="#f9ee3a" stroke="#222" stroke-width="1"/>
<path d="M1052.6 1848.9H1055.4M1052.6 1846.4V1851.4M1055.4 1846.4V1851.4" fill="none" stroke="#0a0a0a" stroke-width="1.5"/>
<rect x="1038.5" y="1857.3" width="16.6" height="10" fill="#5fa2dd" stroke="#222" stroke-width="1"/>
<path d="M1054 1862.3H1056.2M1054 1859.8V1864.8M1056.2 1859.8V1864.8" fill="none" stroke="#0a0a0a" stroke-width="1.5"/>
<rect x="1038.5" y="1878.2" width="166.3" height="10" fill="#fff" stroke="#222" stroke-width="1"/>
<path d="M1200.6 1883.2H1209.3M1200.6 1880.7V1885.7M1209.3 1880.7V1885.7" fill="none" stroke="#0a0a0a" stroke-width="1.5"/>
<rect x="1038.5" y="1891.8" width="140.4" height="10" fill="#000" stroke="#000" stroke-width="1"/>
<path d="M1178.4 1896.8H1179.5M1178.4 1894.3V1899.3M1179.5 1894.3V1899.3" fill="none" stroke="#0a0a0a" stroke-width="1.5"/>
<rect x="1038.5" y="1905.2" width="152.7" height="10" fill="#f9ee3a" stroke="#222" stroke-width="1"/>
<path d="M1183.4 1910.2H1199.2M1183.4 1907.7V1912.7M1199.2 1907.7V1912.7" fill="none" stroke="#0a0a0a" stroke-width="1.5"/>
<rect x="1038.5" y="1918.2" width="156.8" height="10" fill="#5fa2dd" stroke="#222" stroke-width="1"/>
<path d="M1190.9 1923.2H1200.1M1190.9 1920.7V1925.7M1200.1 1920.7V1925.7" fill="none" stroke="#0a0a0a" stroke-width="1.5"/>
<rect x="1038.5" y="1939.1" width="11" height="10" fill="#fff" stroke="#222" stroke-width="1"/>
<path d="M1048.7 1944.1H1050.6M1048.7 1941.6V1946.6M1050.6 1941.6V1946.6" fill="none" stroke="#0a0a0a" stroke-width="1.5"/>
<rect x="1038.5" y="1952.8" width="9.9" height="10" fill="#000" stroke="#000" stroke-width="1"/>
<path d="M1047.8 1957.8H1050.1M1047.8 1955.3V1960.3M1050.1 1955.3V1960.3" fill="none" stroke="#0a0a0a" stroke-width="1.5"/>
<rect x="1038.5" y="1966.1" width="11.9" height="10" fill="#f9ee3a" stroke="#222" stroke-width="1"/>
<path d="M1049.8 1971.1H1051.2M1049.8 1968.6V1973.6M1051.2 1968.6V1973.6" fill="none" stroke="#0a0a0a" stroke-width="1.5"/>
<rect x="1038.5" y="1979.5" width="11.9" height="10" fill="#5fa2dd" stroke="#222" stroke-width="1"/>
<path d="M1049 1984.5H1051.5M1049 1982V1987M1051.5 1982V1987" fill="none" stroke="#0a0a0a" stroke-width="1.5"/>
<rect x="1037.9" y="595.9" width="377.8" height="1404.7" fill="none" stroke="#000" stroke-width="2.7"/>
<line x1="1025.3" y1="651.7" x2="1037.9" y2="651.7" stroke="#000" stroke-width="2.2"/>
<line x1="1025.3" y1="711" x2="1037.9" y2="711" stroke="#000" stroke-width="2.2"/>
<line x1="1025.3" y1="772.9" x2="1037.9" y2="772.9" stroke="#000" stroke-width="2.2"/>
<line x1="1025.3" y1="835.6" x2="1037.9" y2="835.6" stroke="#000" stroke-width="2.2"/>
<line x1="1025.3" y1="893.9" x2="1037.9" y2="893.9" stroke="#000" stroke-width="2.2"/>
<line x1="1025.3" y1="955.5" x2="1037.9" y2="955.5" stroke="#000" stroke-width="2.2"/>
<line x1="1025.3" y1="1018.8" x2="1037.9" y2="1018.8" stroke="#000" stroke-width="2.2"/>
<line x1="1025.3" y1="1077.6" x2="1037.9" y2="1077.6" stroke="#000" stroke-width="2.2"/>
<line x1="1025.3" y1="1140.4" x2="1037.9" y2="1140.4" stroke="#000" stroke-width="2.2"/>
<line x1="1025.3" y1="1203.1" x2="1037.9" y2="1203.1" stroke="#000" stroke-width="2.2"/>
<line x1="1025.3" y1="1261.7" x2="1037.9" y2="1261.7" stroke="#000" stroke-width="2.2"/>
<line x1="1025.3" y1="1323" x2="1037.9" y2="1323" stroke="#000" stroke-width="2.2"/>
<line x1="1025.3" y1="1384.9" x2="1037.9" y2="1384.9" stroke="#000" stroke-width="2.2"/>
<line x1="1025.3" y1="1445.6" x2="1037.9" y2="1445.6" stroke="#000" stroke-width="2.2"/>
<line x1="1025.3" y1="1507" x2="1037.9" y2="1507" stroke="#000" stroke-width="2.2"/>
<line x1="1025.3" y1="1568.9" x2="1037.9" y2="1568.9" stroke="#000" stroke-width="2.2"/>
<line x1="1025.3" y1="1627.7" x2="1037.9" y2="1627.7" stroke="#000" stroke-width="2.2"/>
<line x1="1025.3" y1="1687.6" x2="1037.9" y2="1687.6" stroke="#000" stroke-width="2.2"/>
<line x1="1025.3" y1="1749" x2="1037.9" y2="1749" stroke="#000" stroke-width="2.2"/>
<line x1="1025.3" y1="1810.2" x2="1037.9" y2="1810.2" stroke="#000" stroke-width="2.2"/>
<line x1="1025.3" y1="1872.6" x2="1037.9" y2="1872.6" stroke="#000" stroke-width="2.2"/>
<line x1="1025.3" y1="1934.6" x2="1037.9" y2="1934.6" stroke="#000" stroke-width="2.2"/>
<text transform="translate(1037.9,577.3) rotate(90) scale(0.950,1.080)" y="8.8" font-size="23.5" font-weight="bold" text-anchor="end" fill="#0a0a0a" stroke="#0a0a0a" stroke-width="0.3">0</text>
<text transform="translate(1106.2,577.3) rotate(90) scale(0.950,1.080)" y="8.8" font-size="23.5" font-weight="bold" text-anchor="end" fill="#0a0a0a" stroke="#0a0a0a" stroke-width="0.3">5</text>
<text transform="translate(1168,577.3) rotate(90) scale(0.950,1.080)" y="8.8" font-size="23.5" font-weight="bold" text-anchor="end" fill="#0a0a0a" stroke="#0a0a0a" stroke-width="0.3">10</text>
<text transform="translate(1224.1,577.3) rotate(90) scale(0.950,1.080)" y="8.8" font-size="23.5" font-weight="bold" text-anchor="end" fill="#0a0a0a" stroke="#0a0a0a" stroke-width="0.3">15</text>
<text transform="translate(1283.2,577.3) rotate(90) scale(0.950,1.080)" y="8.8" font-size="23.5" font-weight="bold" text-anchor="end" fill="#0a0a0a" stroke="#0a0a0a" stroke-width="0.3">20</text>
<text transform="translate(1352.3,577.3) rotate(90) scale(0.950,1.080)" y="8.8" font-size="23.5" font-weight="bold" text-anchor="end" fill="#0a0a0a" stroke="#0a0a0a" stroke-width="0.3">25</text>
<text transform="translate(1410,577.3) rotate(90) scale(0.950,1.080)" y="8.8" font-size="23.5" font-weight="bold" text-anchor="end" fill="#0a0a0a" stroke="#0a0a0a" stroke-width="0.3">30</text>
<text transform="translate(1240.6,525.4)" y="0" font-size="26.1" font-weight="bold" text-anchor="middle" fill="#0a0a0a" stroke="#0a0a0a" stroke-width="0.3">Percentage</text>
<text transform="translate(872.3,546.8) scale(0.940,1.000)" y="0" font-size="57.8" font-weight="bold" text-anchor="start" fill="#0a0a0a" stroke="#0a0a0a" stroke-width="0.3">D</text>
<text transform="translate(1022.3,639.3)" y="0" font-size="24.1" font-weight="bold" text-anchor="end" fill="#0a0a0a" stroke="#0a0a0a" stroke-width="0.3">FA 14:0</text>
<text transform="translate(1022.3,689.9)" y="0" font-size="24.1" font-weight="bold" text-anchor="end" fill="#0a0a0a" stroke="#0a0a0a" stroke-width="0.3">FA 15:0</text>
<text transform="translate(1022.3,749.9)" y="0" font-size="24.1" font-weight="bold" text-anchor="end" fill="#0a0a0a" stroke="#0a0a0a" stroke-width="0.3">FA 16:0</text>
<text transform="translate(1022.3,810.9)" y="0" font-size="24.1" font-weight="bold" text-anchor="end" fill="#0a0a0a" stroke="#0a0a0a" stroke-width="0.3">FA 16:1</text>
<text transform="translate(1022.3,870.5)" y="0" font-size="24.1" font-weight="bold" text-anchor="end" fill="#0a0a0a" stroke="#0a0a0a" stroke-width="0.3">FA 17:0</text>
<text transform="translate(1022.3,933.8)" y="0" font-size="24.1" font-weight="bold" text-anchor="end" fill="#0a0a0a" stroke="#0a0a0a" stroke-width="0.3">FA 17:0 iso</text>
<text transform="translate(1022.3,993.1)" y="0" font-size="24.1" font-weight="bold" text-anchor="end" fill="#0a0a0a" stroke="#0a0a0a" stroke-width="0.3">FA 17:0 delta</text>
<text transform="translate(1022.3,1054.1)" y="0" font-size="24.1" font-weight="bold" text-anchor="end" fill="#0a0a0a" stroke="#0a0a0a" stroke-width="0.3">FA 18:0</text>
<text transform="translate(1022.3,1119.1)" y="0" font-size="24.1" font-weight="bold" text-anchor="end" fill="#0a0a0a" stroke="#0a0a0a" stroke-width="0.3">FA 18:1n7</text>
<text transform="translate(1022.3,1178.7)" y="0" font-size="24.1" font-weight="bold" text-anchor="end" fill="#0a0a0a" stroke="#0a0a0a" stroke-width="0.3">FA 18:1n9</text>
<text transform="translate(1022.3,1238)" y="0" font-size="24.1" font-weight="bold" text-anchor="end" fill="#0a0a0a" stroke="#0a0a0a" stroke-width="0.3">FA 18:2n6</text>
<text transform="translate(1022.3,1299.3)" y="0" font-size="24.1" font-weight="bold" text-anchor="end" fill="#0a0a0a" stroke="#0a0a0a" stroke-width="0.3">FA 18:3</text>
<text transform="translate(1022.3,1362.6)" y="0" font-size="24.1" font-weight="bold" text-anchor="end" fill="#0a0a0a" stroke="#0a0a0a" stroke-width="0.3">FA 18:4</text>
<text transform="translate(1022.3,1421.6)" y="0" font-size="24.1" font-weight="bold" text-anchor="end" fill="#0a0a0a" stroke="#0a0a0a" stroke-width="0.3">FA 19:0 iso</text>
<text transform="translate(1022.3,1483.9)" y="0" font-size="24.1" font-weight="bold" text-anchor="end" fill="#0a0a0a" stroke="#0a0a0a" stroke-width="0.3">FA 19:0 delta</text>
<text transform="translate(1022.3,1543.2)" y="0" font-size="24.1" font-weight="bold" text-anchor="end" fill="#0a0a0a" stroke="#0a0a0a" stroke-width="0.3">FA 20:1n9</text>
<text transform="translate(1022.3,1608.8)" y="0" font-size="24.1" font-weight="bold" text-anchor="end" fill="#0a0a0a" stroke="#0a0a0a" stroke-width="0.3">FA 20:2</text>
<text transform="translate(1022.3,1660.5)" y="0" font-size="24.1" font-weight="bold" text-anchor="end" fill="#0a0a0a" stroke="#0a0a0a" stroke-width="0.3">FA 20:3n3</text>
<text transform="translate(1022.3,1725.8)" y="0" font-size="24.1" font-weight="bold" text-anchor="end" fill="#0a0a0a" stroke="#0a0a0a" stroke-width="0.3">FA 20:3n6</text>
<text transform="translate(1022.3,1786.4)" y="0" font-size="24.1" font-weight="bold" text-anchor="end" fill="#0a0a0a" stroke="#0a0a0a" stroke-width="0.3">FA 20:4n3</text>
<text transform="translate(1022.3,1849.1)" y="0" font-size="24.1" font-weight="bold" text-anchor="end" fill="#0a0a0a" stroke="#0a0a0a" stroke-width="0.3">FA 20:4n6</text>
<text transform="translate(1022.3,1915.4)" y="0" font-size="24.1" font-weight="bold" text-anchor="end" fill="#0a0a0a" stroke="#0a0a0a" stroke-width="0.3">FA 20:5</text>
<text transform="translate(1022.3,1976.3)" y="0" font-size="24.1" font-weight="bold" text-anchor="end" fill="#0a0a0a" stroke="#0a0a0a" stroke-width="0.3">FA 22:0</text>
<path d="M1084.7 601.5H1099.2V614.9H1084.7" fill="none" stroke="#000" stroke-width="1.4"/>
<text transform="translate(1106.7,608.5) rotate(90)" y="9.4" font-size="18.5" font-weight="bold" text-anchor="middle" fill="#0a0a0a">*</text>
<path d="M1104.2 616.8H1118.4V629.9H1104.2" fill="none" stroke="#000" stroke-width="1.4"/>
<text transform="translate(1127.6,625.7) rotate(90)" y="9.4" font-size="18.5" font-weight="bold" text-anchor="middle" fill="#0a0a0a" letter-spacing="1">**</text>
<path d="M1134 616.3H1148.5V640H1134" fill="none" stroke="#000" stroke-width="1.4"/>
<text transform="translate(1156.9,632.7) rotate(90)" y="9.4" font-size="18.5" font-weight="bold" text-anchor="middle" fill="#0a0a0a">*</text>
<path d="M1096.7 675.4H1111.5V689.3H1096.7" fill="none" stroke="#000" stroke-width="1.4"/>
<text transform="translate(1121.5,682.9) rotate(90)" y="9.4" font-size="18.5" font-weight="bold" text-anchor="middle" fill="#0a0a0a">*</text>
<path d="M1083 784.6H1097.8V798.6H1083" fill="none" stroke="#000" stroke-width="1.4"/>
<text transform="translate(1107.3,794.3) rotate(90)" y="9.4" font-size="18.5" font-weight="bold" text-anchor="middle" fill="#0a0a0a" letter-spacing="1">**</text>
<path d="M1113.1 798.3H1127.4V812.2H1113.1" fill="none" stroke="#000" stroke-width="1.4"/>
<text transform="translate(1134.6,807.7) rotate(90)" y="9.4" font-size="18.5" font-weight="bold" text-anchor="middle" fill="#0a0a0a" letter-spacing="1">***</text>
<path d="M1141.8 798.3H1156.6V822.3H1141.8" fill="none" stroke="#000" stroke-width="1.4"/>
<text transform="translate(1166.4,811.1) rotate(90)" y="9.4" font-size="18.5" font-weight="bold" text-anchor="middle" fill="#0a0a0a" letter-spacing="1">***</text>
<path d="M1071.3 846.2H1085.8V860.2H1071.3" fill="none" stroke="#000" stroke-width="1.4"/>
<text transform="translate(1095.6,855.7) rotate(90)" y="9.4" font-size="18.5" font-weight="bold" text-anchor="middle" fill="#0a0a0a" letter-spacing="1">**</text>
<path d="M1102 860.7H1116.5V884.7H1102" fill="none" stroke="#000" stroke-width="1.4"/>
<text transform="translate(1127.6,873.2) rotate(90)" y="9.4" font-size="18.5" font-weight="bold" text-anchor="middle" fill="#0a0a0a" letter-spacing="1">***</text>
<path d="M1088.3 907.6H1103.1V921.5H1088.3" fill="none" stroke="#000" stroke-width="1.4"/>
<text transform="translate(1109.8,915.9) rotate(90)" y="9.4" font-size="18.5" font-weight="bold" text-anchor="middle" fill="#0a0a0a" letter-spacing="1">**</text>
<path d="M1116.2 921.2H1131V934.9H1116.2" fill="none" stroke="#000" stroke-width="1.4"/>
<text transform="translate(1137.1,929.2) rotate(90)" y="9.4" font-size="18.5" font-weight="bold" text-anchor="middle" fill="#0a0a0a" letter-spacing="1">**</text>
<path d="M1146 920.7H1160.8V944.6H1146" fill="none" stroke="#000" stroke-width="1.4"/>
<text transform="translate(1166.7,932.4) rotate(90)" y="9.4" font-size="18.5" font-weight="bold" text-anchor="middle" fill="#0a0a0a">*</text>
<path d="M1203.2 968.3H1217.9V982H1203.2" fill="none" stroke="#000" stroke-width="1.4"/>
<text transform="translate(1226,975) rotate(90)" y="9.4" font-size="18.5" font-weight="bold" text-anchor="middle" fill="#0a0a0a">*</text>
<path d="M1231.6 981.1H1246.1V995.1H1231.6" fill="none" stroke="#000" stroke-width="1.4"/>
<text transform="translate(1252.8,989.7) rotate(90)" y="9.4" font-size="18.5" font-weight="bold" text-anchor="middle" fill="#0a0a0a" letter-spacing="1">**</text>
<path d="M1260.9 981.1H1275.4V1005.1H1260.9" fill="none" stroke="#000" stroke-width="1.4"/>
<text transform="translate(1283.7,995.6) rotate(90)" y="9.4" font-size="18.5" font-weight="bold" text-anchor="middle" fill="#0a0a0a" letter-spacing="1">**</text>
<path d="M1189.2 1028.3H1204V1041.9H1189.2" fill="none" stroke="#000" stroke-width="1.4"/>
<text transform="translate(1213.5,1035.8) rotate(90)" y="9.4" font-size="18.5" font-weight="bold" text-anchor="middle" fill="#0a0a0a">*</text>
<path d="M1282.6 1090.7H1297.1V1104.6H1282.6" fill="none" stroke="#000" stroke-width="1.4"/>
<text transform="translate(1306,1099.6) rotate(90)" y="9.4" font-size="18.5" font-weight="bold" text-anchor="middle" fill="#0a0a0a" letter-spacing="1">***</text>
<path d="M1311 1103.8H1325.3V1117.7H1311" fill="none" stroke="#000" stroke-width="1.4"/>
<text transform="translate(1333.9,1113.5) rotate(90)" y="9.4" font-size="18.5" font-weight="bold" text-anchor="middle" fill="#0a0a0a" letter-spacing="1">***</text>
<path d="M1343.1 1103.5H1357.9V1127.5H1343.1" fill="none" stroke="#000" stroke-width="1.4"/>
<text transform="translate(1366.8,1117.7) rotate(90)" y="9.4" font-size="18.5" font-weight="bold" text-anchor="middle" fill="#0a0a0a" letter-spacing="1">***</text>
<path d="M1105.9 1150.7H1120.4V1164.7H1105.9" fill="none" stroke="#000" stroke-width="1.4"/>
<text transform="translate(1129.3,1159.6) rotate(90)" y="9.4" font-size="18.5" font-weight="bold" text-anchor="middle" fill="#0a0a0a" letter-spacing="1">***</text>
<path d="M1143.8 1210.4H1158.3V1224H1143.8" fill="none" stroke="#000" stroke-width="1.4"/>
<text transform="translate(1165.3,1217.9) rotate(90)" y="9.4" font-size="18.5" font-weight="bold" text-anchor="middle" fill="#0a0a0a" letter-spacing="1">**</text>
<path d="M1068.8 1287.6H1083.6V1301.3H1068.8" fill="none" stroke="#000" stroke-width="1.4"/>
<text transform="translate(1090.8,1295.9) rotate(90)" y="9.4" font-size="18.5" font-weight="bold" text-anchor="middle" fill="#0a0a0a" letter-spacing="1">**</text>
<path d="M1098.6 1287.3H1113.4V1311.3H1098.6" fill="none" stroke="#000" stroke-width="1.4"/>
<text transform="translate(1121.5,1302) rotate(90)" y="9.4" font-size="18.5" font-weight="bold" text-anchor="middle" fill="#0a0a0a" letter-spacing="1">**</text>
<path d="M1057.4 1408.9H1071.9V1422.8H1057.4" fill="none" stroke="#000" stroke-width="1.4"/>
<text transform="translate(1078.6,1416.9) rotate(90)" y="9.4" font-size="18.5" font-weight="bold" text-anchor="middle" fill="#0a0a0a" letter-spacing="1">**</text>
<path d="M1087.2 1408.6H1101.7V1432.5H1087.2" fill="none" stroke="#000" stroke-width="1.4"/>
<text transform="translate(1108.1,1420) rotate(90)" y="9.4" font-size="18.5" font-weight="bold" text-anchor="middle" fill="#0a0a0a">*</text>
<path d="M1209.3 1456.2H1224.1V1470.2H1209.3" fill="none" stroke="#000" stroke-width="1.4"/>
<text transform="translate(1233,1465.7) rotate(90)" y="9.4" font-size="18.5" font-weight="bold" text-anchor="middle" fill="#0a0a0a" letter-spacing="1">***</text>
<path d="M1240.5 1469.9H1255.3V1483.8H1240.5" fill="none" stroke="#000" stroke-width="1.4"/>
<text transform="translate(1264.5,1479) rotate(90)" y="9.4" font-size="18.5" font-weight="bold" text-anchor="middle" fill="#0a0a0a" letter-spacing="1">***</text>
<path d="M1273.4 1469.9H1287.9V1493.9H1273.4" fill="none" stroke="#000" stroke-width="1.4"/>
<text transform="translate(1297.1,1482.7) rotate(90)" y="9.4" font-size="18.5" font-weight="bold" text-anchor="middle" fill="#0a0a0a" letter-spacing="1">***</text>
<path d="M1061.3 1517H1076.1V1530.9H1061.3" fill="none" stroke="#000" stroke-width="1.4"/>
<text transform="translate(1085.3,1525) rotate(90)" y="9.4" font-size="18.5" font-weight="bold" text-anchor="middle" fill="#0a0a0a" letter-spacing="1">**</text>
<path d="M1092.5 1529.8H1107.3V1543.8H1092.5" fill="none" stroke="#000" stroke-width="1.4"/>
<text transform="translate(1117,1537.1) rotate(90)" y="9.4" font-size="18.5" font-weight="bold" text-anchor="middle" fill="#0a0a0a">*</text>
<path d="M1122.3 1529.8H1137.1V1553.8H1122.3" fill="none" stroke="#000" stroke-width="1.4"/>
<text transform="translate(1146.6,1541) rotate(90)" y="9.4" font-size="18.5" font-weight="bold" text-anchor="middle" fill="#0a0a0a">*</text>
<path d="M1071.6 1578.3H1086.1V1592H1071.6" fill="none" stroke="#000" stroke-width="1.4"/>
<text transform="translate(1095.3,1586.9) rotate(90)" y="9.4" font-size="18.5" font-weight="bold" text-anchor="middle" fill="#0a0a0a" letter-spacing="1">***</text>
<path d="M1102.8 1591.1H1117.3V1605.1H1102.8" fill="none" stroke="#000" stroke-width="1.4"/>
<text transform="translate(1126.5,1598.1) rotate(90)" y="9.4" font-size="18.5" font-weight="bold" text-anchor="middle" fill="#0a0a0a">*</text>
<path d="M1135.4 1590.6H1150.2V1614.6H1135.4" fill="none" stroke="#000" stroke-width="1.4"/>
<text transform="translate(1159.7,1605.1) rotate(90)" y="9.4" font-size="18.5" font-weight="bold" text-anchor="middle" fill="#0a0a0a">*</text>
<path d="M1066 1638.5H1080.5V1652.2H1066" fill="none" stroke="#000" stroke-width="1.4"/>
<text transform="translate(1089.7,1646.3) rotate(90)" y="9.4" font-size="18.5" font-weight="bold" text-anchor="middle" fill="#0a0a0a" letter-spacing="1">**</text>
<path d="M1094.9 1713.4H1109.4V1727H1094.9" fill="none" stroke="#000" stroke-width="1.4"/>
<text transform="translate(1116.3,1721.4) rotate(90)" y="9.4" font-size="18.5" font-weight="bold" text-anchor="middle" fill="#0a0a0a" letter-spacing="1">**</text>
<path d="M1124.1 1713.1H1138.9V1737.1H1124.1" fill="none" stroke="#000" stroke-width="1.4"/>
<text transform="translate(1147.5,1727) rotate(90)" y="9.4" font-size="18.5" font-weight="bold" text-anchor="middle" fill="#0a0a0a" letter-spacing="1">**</text>
<path d="M1114.6 1762.9H1129.4V1776.6H1114.6" fill="none" stroke="#000" stroke-width="1.4"/>
<text transform="translate(1138,1769.6) rotate(90)" y="9.4" font-size="18.5" font-weight="bold" text-anchor="middle" fill="#0a0a0a">*</text>
<path d="M1145.8 1776.3H1160.6V1789.9H1145.8" fill="none" stroke="#000" stroke-width="1.4"/>
<text transform="translate(1170,1784.6) rotate(90)" y="9.4" font-size="18.5" font-weight="bold" text-anchor="middle" fill="#0a0a0a" letter-spacing="1">**</text>
<path d="M1178.4 1776H1193.1V1799.9H1178.4" fill="none" stroke="#000" stroke-width="1.4"/>
<text transform="translate(1202.6,1789) rotate(90)" y="9.4" font-size="18.5" font-weight="bold" text-anchor="middle" fill="#0a0a0a" letter-spacing="1">**</text>
<path d="M1068.2 1822.2H1082.9V1835.8H1068.2" fill="none" stroke="#000" stroke-width="1.4"/>
<text transform="translate(1091.8,1831.3) rotate(90)" y="9.4" font-size="18.5" font-weight="bold" text-anchor="middle" fill="#0a0a0a" letter-spacing="1">***</text>
<path d="M1098.5 1836.1H1113.2V1860.1H1098.5" fill="none" stroke="#000" stroke-width="1.4"/>
<text transform="translate(1119.4,1847.5) rotate(90)" y="9.4" font-size="18.5" font-weight="bold" text-anchor="middle" fill="#0a0a0a">*</text>
<path d="M1220.7 1884H1235.1V1897.6H1220.7" fill="none" stroke="#000" stroke-width="1.4"/>
<text transform="translate(1244.6,1892.8) rotate(90)" y="9.4" font-size="18.5" font-weight="bold" text-anchor="middle" fill="#0a0a0a" letter-spacing="1">***</text>
<path d="M1251.3 1897.1H1266V1911H1251.3" fill="none" stroke="#000" stroke-width="1.4"/>
<text transform="translate(1276.3,1904) rotate(90)" y="9.4" font-size="18.5" font-weight="bold" text-anchor="middle" fill="#0a0a0a">*</text>
<path d="M1284.4 1896.8H1299.1V1920.7H1284.4" fill="none" stroke="#000" stroke-width="1.4"/>
<text transform="translate(1308.3,1909.5) rotate(90)" y="9.4" font-size="18.5" font-weight="bold" text-anchor="middle" fill="#0a0a0a" letter-spacing="1">**</text>
<rect x="1433.2" y="803" width="43.9" height="48.7" fill="#fff" stroke="#111" stroke-width="1.5"/>
<text transform="translate(1484.3,836.4) scale(0.889,1.000)" y="0" font-size="28.6" font-weight="bold" text-anchor="start" fill="#0a0a0a" stroke="#0a0a0a" stroke-width="0.3">OP</text>
<rect x="1433.2" y="934.7" width="43.9" height="48.3" fill="#000" stroke="#000" stroke-width="1.5"/>
<text transform="translate(1484.3,967.5) scale(0.889,1.000)" y="0" font-size="28.6" font-weight="bold" text-anchor="start" fill="#0a0a0a" stroke="#0a0a0a" stroke-width="0.3">HG-OP</text>
<rect x="1433.2" y="1063" width="43.9" height="48" fill="#f9ee3a" stroke="#111" stroke-width="1.5"/>
<text transform="translate(1484.3,1097.8) scale(0.889,1.000)" y="0" font-size="28.6" font-weight="bold" text-anchor="start" fill="#0a0a0a" stroke="#0a0a0a" stroke-width="0.3">HG Mix 3:1 (OP:DA)</text>
<rect x="1433.2" y="1188.7" width="43.9" height="48.5" fill="#5fa2dd" stroke="#111" stroke-width="1.5"/>
<text transform="translate(1484.3,1226.8) scale(0.889,1.000)" y="0" font-size="28.6" font-weight="bold" text-anchor="start" fill="#0a0a0a" stroke="#0a0a0a" stroke-width="0.3">HG Mix 9:1 (OP:DA)</text>
<circle cx="973.2" cy="2108.2" r="5.2" fill="#000" stroke="#fff" stroke-width="0.6"/>
<circle cx="984.2" cy="2122.8" r="5.2" fill="#000" stroke="#fff" stroke-width="0.6"/>
<circle cx="961.6" cy="2129.8" r="5.2" fill="#000" stroke="#fff" stroke-width="0.6"/>
<circle cx="972.6" cy="2134.1" r="5.2" fill="#000" stroke="#fff" stroke-width="0.6"/>
<circle cx="961.6" cy="2142.3" r="5.2" fill="#000" stroke="#fff" stroke-width="0.6"/>
<circle cx="984.8" cy="2146.6" r="5.2" fill="#000" stroke="#fff" stroke-width="0.6"/>
<circle cx="968.8" cy="2149.5" r="5.2" fill="#000" stroke="#fff" stroke-width="0.6"/>
<circle cx="978.4" cy="2151" r="5.2" fill="#000" stroke="#fff" stroke-width="0.6"/>
<circle cx="966.8" cy="2176.6" r="5.2" fill="#000" stroke="#fff" stroke-width="0.6"/>
<circle cx="979" cy="2188.8" r="5.2" fill="#000" stroke="#fff" stroke-width="0.6"/>
<circle cx="973.2" cy="2208.2" r="5.2" fill="#000" stroke="#fff" stroke-width="0.6"/>
<line x1="955.5" y1="2150.7" x2="990.9" y2="2150.7" stroke="#000" stroke-width="1.4"/>
<line x1="973.2" y1="2122.2" x2="973.2" y2="2178.6" stroke="#000" stroke-width="1.4"/>
<line x1="964.5" y1="2122.2" x2="981.9" y2="2122.2" stroke="#000" stroke-width="1.4"/>
<line x1="964.5" y1="2178.6" x2="981.9" y2="2178.6" stroke="#000" stroke-width="1.4"/>
<rect x="1009.1" y="2214.5" width="9.6" height="9.6" fill="#000" stroke="#fff" stroke-width="0.6"/>
<rect x="1032.3" y="2219.7" width="9.6" height="9.6" fill="#000" stroke="#fff" stroke-width="0.6"/>
<rect x="1020.7" y="2227.6" width="9.6" height="9.6" fill="#000" stroke="#fff" stroke-width="0.6"/>
<rect x="1009.1" y="2234.8" width="9.6" height="9.6" fill="#000" stroke="#fff" stroke-width="0.6"/>
<rect x="1032.3" y="2234.8" width="9.6" height="9.6" fill="#000" stroke="#fff" stroke-width="0.6"/>
<rect x="1020.7" y="2245" width="9.6" height="9.6" fill="#000" stroke="#fff" stroke-width="0.6"/>
<rect x="1015.8" y="2252.3" width="9.6" height="9.6" fill="#000" stroke="#fff" stroke-width="0.6"/>
<rect x="1025.9" y="2252.3" width="9.6" height="9.6" fill="#000" stroke="#fff" stroke-width="0.6"/>
<rect x="1010.5" y="2258.1" width="9.6" height="9.6" fill="#000" stroke="#fff" stroke-width="0.6"/>
<rect x="1030.9" y="2255.8" width="9.6" height="9.6" fill="#000" stroke="#fff" stroke-width="0.6"/>
<rect x="1017.8" y="2261.9" width="9.6" height="9.6" fill="#000" stroke="#fff" stroke-width="0.6"/>
<rect x="1023.6" y="2258.1" width="9.6" height="9.6" fill="#000" stroke="#fff" stroke-width="0.6"/>
<line x1="1007.8" y1="2247.8" x2="1043.2" y2="2247.8" stroke="#000" stroke-width="1.4"/>
<line x1="1025.5" y1="2231.5" x2="1025.5" y2="2264.3" stroke="#000" stroke-width="1.4"/>
<line x1="1016.8" y1="2231.5" x2="1034.2" y2="2231.5" stroke="#000" stroke-width="1.4"/>
<line x1="1016.8" y1="2264.3" x2="1034.2" y2="2264.3" stroke="#000" stroke-width="1.4"/>
<path d="M1072.3 2217.9L1078.2 2228.3L1066.4 2228.3Z" fill="#000" stroke="#fff" stroke-width="0.6"/>
<path d="M1090.9 2226.3L1096.8 2236.7L1085 2236.7Z" fill="#000" stroke="#fff" stroke-width="0.6"/>
<path d="M1072.3 2235.9L1078.2 2246.3L1066.4 2246.3Z" fill="#000" stroke="#fff" stroke-width="0.6"/>
<path d="M1067.6 2237.3L1073.5 2247.7L1061.7 2247.7Z" fill="#000" stroke="#fff" stroke-width="0.6"/>
<path d="M1086 2234.4L1091.9 2244.8L1080.1 2244.8Z" fill="#000" stroke="#fff" stroke-width="0.6"/>
<path d="M1075.8 2243.7L1081.7 2254.1L1069.9 2254.1Z" fill="#000" stroke="#fff" stroke-width="0.6"/>
<path d="M1081.6 2241.7L1087.5 2252.1L1075.7 2252.1Z" fill="#000" stroke="#fff" stroke-width="0.6"/>
<path d="M1066.5 2256.2L1072.4 2266.6L1060.6 2266.6Z" fill="#000" stroke="#fff" stroke-width="0.6"/>
<path d="M1090.3 2254.8L1096.2 2265.2L1084.4 2265.2Z" fill="#000" stroke="#fff" stroke-width="0.6"/>
<path d="M1078.1 2264.4L1084 2274.8L1072.2 2274.8Z" fill="#000" stroke="#fff" stroke-width="0.6"/>
<path d="M1078.1 2288.2L1084 2298.6L1072.2 2298.6Z" fill="#000" stroke="#fff" stroke-width="0.6"/>
<line x1="1060.4" y1="2248.9" x2="1095.8" y2="2248.9" stroke="#000" stroke-width="1.4"/>
<line x1="1078.1" y1="2229.7" x2="1078.1" y2="2268.1" stroke="#000" stroke-width="1.4"/>
<line x1="1069.4" y1="2229.7" x2="1086.8" y2="2229.7" stroke="#000" stroke-width="1.4"/>
<line x1="1069.4" y1="2268.1" x2="1086.8" y2="2268.1" stroke="#000" stroke-width="1.4"/>
<path d="M1124.6 2185.2L1130.5 2174.8L1118.7 2174.8Z" fill="#000" stroke="#fff" stroke-width="0.6"/>
<path d="M1136.8 2186.7L1142.7 2176.3L1130.9 2176.3Z" fill="#000" stroke="#fff" stroke-width="0.6"/>
<path d="M1142.6 2205.6L1148.5 2195.2L1136.7 2195.2Z" fill="#000" stroke="#fff" stroke-width="0.6"/>
<path d="M1117.9 2210.5L1123.8 2200.1L1112 2200.1Z" fill="#000" stroke="#fff" stroke-width="0.6"/>
<path d="M1130.4 2205.6L1136.3 2195.2L1124.5 2195.2Z" fill="#000" stroke="#fff" stroke-width="0.6"/>
<path d="M1125.2 2215.8L1131.1 2205.4L1119.3 2205.4Z" fill="#000" stroke="#fff" stroke-width="0.6"/>
<path d="M1135.4 2215.8L1141.3 2205.4L1129.5 2205.4Z" fill="#000" stroke="#fff" stroke-width="0.6"/>
<path d="M1144.1 2231.7L1150 2221.3L1138.2 2221.3Z" fill="#000" stroke="#fff" stroke-width="0.6"/>
<path d="M1117.9 2237.6L1123.8 2227.2L1112 2227.2Z" fill="#000" stroke="#fff" stroke-width="0.6"/>
<path d="M1126.7 2239.6L1132.6 2229.2L1120.8 2229.2Z" fill="#000" stroke="#fff" stroke-width="0.6"/>
<path d="M1135.4 2239.6L1141.3 2229.2L1129.5 2229.2Z" fill="#000" stroke="#fff" stroke-width="0.6"/>
<line x1="1112.7" y1="2210.8" x2="1148.1" y2="2210.8" stroke="#000" stroke-width="1.4"/>
<line x1="1130.4" y1="2192.2" x2="1130.4" y2="2230" stroke="#000" stroke-width="1.4"/>
<line x1="1121.7" y1="2192.2" x2="1139.1" y2="2192.2" stroke="#000" stroke-width="1.4"/>
<line x1="1121.7" y1="2230" x2="1139.1" y2="2230" stroke="#000" stroke-width="1.4"/>
<path d="M1182.7 2193L1188.6 2198.9L1182.7 2204.8L1176.8 2198.9Z" fill="#000" stroke="#fff" stroke-width="0.6"/>
<path d="M1171.7 2204.1L1177.6 2210L1171.7 2215.9L1165.8 2210Z" fill="#000" stroke="#fff" stroke-width="0.6"/>
<path d="M1194.1 2204.7L1200 2210.6L1194.1 2216.5L1188.2 2210.6Z" fill="#000" stroke="#fff" stroke-width="0.6"/>
<path d="M1177.5 2211.1L1183.4 2217L1177.5 2222.9L1171.6 2217Z" fill="#000" stroke="#fff" stroke-width="0.6"/>
<path d="M1189.1 2211.1L1195 2217L1189.1 2222.9L1183.2 2217Z" fill="#000" stroke="#fff" stroke-width="0.6"/>
<path d="M1182.7 2214.8L1188.6 2220.7L1182.7 2226.6L1176.8 2220.7Z" fill="#000" stroke="#fff" stroke-width="0.6"/>
<path d="M1171.7 2217.7L1177.6 2223.6L1171.7 2229.5L1165.8 2223.6Z" fill="#000" stroke="#fff" stroke-width="0.6"/>
<path d="M1195 2217.7L1200.9 2223.6L1195 2229.5L1189.1 2223.6Z" fill="#000" stroke="#fff" stroke-width="0.6"/>
<path d="M1182.7 2227.3L1188.6 2233.2L1182.7 2239.1L1176.8 2233.2Z" fill="#000" stroke="#fff" stroke-width="0.6"/>
<path d="M1171.7 2232.3L1177.6 2238.2L1171.7 2244.1L1165.8 2238.2Z" fill="#000" stroke="#fff" stroke-width="0.6"/>
<path d="M1194.4 2235.2L1200.3 2241.1L1194.4 2247L1188.5 2241.1Z" fill="#000" stroke="#fff" stroke-width="0.6"/>
<path d="M1182.7 2241L1188.6 2246.9L1182.7 2252.8L1176.8 2246.9Z" fill="#000" stroke="#fff" stroke-width="0.6"/>
<line x1="1165" y1="2222.8" x2="1200.4" y2="2222.8" stroke="#000" stroke-width="1.4"/>
<line x1="1182.7" y1="2208.8" x2="1182.7" y2="2237.3" stroke="#000" stroke-width="1.4"/>
<line x1="1174" y1="2208.8" x2="1191.4" y2="2208.8" stroke="#000" stroke-width="1.4"/>
<line x1="1174" y1="2237.3" x2="1191.4" y2="2237.3" stroke="#000" stroke-width="1.4"/>
<line x1="1217.9" y1="2199.5" x2="1253.3" y2="2199.5" stroke="#000" stroke-width="1.4"/>
<line x1="1235.6" y1="2180.6" x2="1235.6" y2="2218.1" stroke="#000" stroke-width="1.4"/>
<line x1="1226.9" y1="2180.6" x2="1244.3" y2="2180.6" stroke="#000" stroke-width="1.4"/>
<line x1="1226.9" y1="2218.1" x2="1244.3" y2="2218.1" stroke="#000" stroke-width="1.4"/>
<circle cx="1235.6" cy="2166.1" r="4.4" fill="#fff" stroke="#000" stroke-width="1.5"/>
<circle cx="1229.3" cy="2174.8" r="4.4" fill="#fff" stroke="#000" stroke-width="1.5"/>
<circle cx="1242" cy="2185" r="4.4" fill="#fff" stroke="#000" stroke-width="1.5"/>
<circle cx="1249.3" cy="2191.7" r="4.4" fill="#fff" stroke="#000" stroke-width="1.5"/>
<circle cx="1229.3" cy="2201" r="4.4" fill="#fff" stroke="#000" stroke-width="1.5"/>
<circle cx="1222.6" cy="2204.7" r="4.4" fill="#fff" stroke="#000" stroke-width="1.5"/>
<circle cx="1240.9" cy="2201" r="4.4" fill="#fff" stroke="#000" stroke-width="1.5"/>
<circle cx="1249.3" cy="2204.7" r="4.4" fill="#fff" stroke="#000" stroke-width="1.5"/>
<circle cx="1234.2" cy="2207.7" r="4.4" fill="#fff" stroke="#000" stroke-width="1.5"/>
<circle cx="1240.6" cy="2217.2" r="4.4" fill="#fff" stroke="#000" stroke-width="1.5"/>
<circle cx="1235.6" cy="2235.8" r="4.4" fill="#fff" stroke="#000" stroke-width="1.5"/>
<line x1="946.4" y1="2072.8" x2="946.4" y2="2419.6" stroke="#000" stroke-width="1.4"/>
<line x1="940" y1="2419" x2="1262.7" y2="2419" stroke="#000" stroke-width="1.4"/>
<line x1="940" y1="2073.4" x2="946.4" y2="2073.4" stroke="#000" stroke-width="1.4"/>
<text transform="translate(937,2080.2)" y="0" font-size="19.8" font-weight="bold" text-anchor="end" fill="#0a0a0a" stroke="#0a0a0a" stroke-width="0.3">1500</text>
<line x1="940" y1="2189" x2="946.4" y2="2189" stroke="#000" stroke-width="1.4"/>
<text transform="translate(937,2195.8)" y="0" font-size="19.8" font-weight="bold" text-anchor="end" fill="#0a0a0a" stroke="#0a0a0a" stroke-width="0.3">1000</text>
<line x1="940" y1="2304.2" x2="946.4" y2="2304.2" stroke="#000" stroke-width="1.4"/>
<text transform="translate(937,2311)" y="0" font-size="19.8" font-weight="bold" text-anchor="end" fill="#0a0a0a" stroke="#0a0a0a" stroke-width="0.3">500</text>
<line x1="940" y1="2419" x2="946.4" y2="2419" stroke="#000" stroke-width="1.4"/>
<text transform="translate(937,2425.8)" y="0" font-size="19.8" font-weight="bold" text-anchor="end" fill="#0a0a0a" stroke="#0a0a0a" stroke-width="0.3">0</text>
<line x1="973.2" y1="2419" x2="973.2" y2="2425" stroke="#000" stroke-width="1.4"/>
<line x1="1025.5" y1="2419" x2="1025.5" y2="2425" stroke="#000" stroke-width="1.4"/>
<line x1="1078.1" y1="2419" x2="1078.1" y2="2425" stroke="#000" stroke-width="1.4"/>
<line x1="1130.4" y1="2419" x2="1130.4" y2="2425" stroke="#000" stroke-width="1.4"/>
<line x1="1182.7" y1="2419" x2="1182.7" y2="2425" stroke="#000" stroke-width="1.4"/>
<line x1="1235.6" y1="2419" x2="1235.6" y2="2425" stroke="#000" stroke-width="1.4"/>
<text transform="translate(851,2368.2) rotate(-90)" y="0" font-size="22.5" font-weight="bold" text-anchor="start" fill="#0a0a0a" stroke="#0a0a0a" stroke-width="0.3">Total progeny produced</text>
<text transform="translate(878,2368.2) rotate(-90)" y="0" font-size="22.5" font-weight="bold" text-anchor="start" fill="#0a0a0a" stroke="#0a0a0a" stroke-width="0.3">by 5 worms</text>
<text transform="translate(972.6,2079.8)" y="0" font-size="22" font-weight="bold" text-anchor="middle" fill="#0a0a0a" stroke="#0a0a0a" stroke-width="0.3">a</text>
<text transform="translate(1028.7,2183)" y="0" font-size="22" font-weight="bold" text-anchor="middle" fill="#0a0a0a" stroke="#0a0a0a" stroke-width="0.3">b</text>
<text transform="translate(1081,2183)" y="0" font-size="22" font-weight="bold" text-anchor="middle" fill="#0a0a0a" stroke="#0a0a0a" stroke-width="0.3">b</text>
<text transform="translate(1132.5,2145.2)" y="0" font-size="22" font-weight="bold" text-anchor="middle" fill="#0a0a0a" stroke="#0a0a0a" stroke-width="0.3">c</text>
<text transform="translate(1184.2,2159.7)" y="0" font-size="22" font-weight="bold" text-anchor="middle" fill="#0a0a0a" stroke="#0a0a0a" stroke-width="0.3">c</text>
<text transform="translate(1232.8,2130.6)" y="0" font-size="22" font-weight="bold" text-anchor="middle" fill="#0a0a0a" stroke="#0a0a0a" stroke-width="0.3">c</text>
<text transform="translate(781.4,2059.6) scale(0.930,1.000)" y="0" font-size="59" font-weight="bold" text-anchor="start" fill="#0a0a0a" stroke="#0a0a0a" stroke-width="0.3">E</text>
<circle cx="1334" cy="2110.6" r="6.2" fill="#000" stroke="#fff" stroke-width="0.6"/>
<text transform="translate(1359.6,2116.6) scale(0.970,1.000)" y="0" font-size="24.3" font-weight="bold" text-anchor="start" fill="#0a0a0a" stroke="#0a0a0a" stroke-width="0.3">OP</text>
<rect x="1328.2" y="2152.7" width="11.5" height="11.5" fill="#000" stroke="#fff" stroke-width="0.6"/>
<text transform="translate(1359.6,2164.2) scale(0.970,1.000)" y="0" font-size="24.3" font-weight="bold" text-anchor="start" fill="#0a0a0a" stroke="#0a0a0a" stroke-width="0.3">HG-OP</text>
<path d="M1334 2205.9L1341.1 2218.3L1326.9 2218.3Z" fill="#000" stroke="#fff" stroke-width="0.6"/>
<text transform="translate(1358.6,2217.9) scale(0.954,1.000)" y="0" font-size="24.3" font-weight="bold" text-anchor="start" fill="#0a0a0a" stroke="#0a0a0a" stroke-width="0.3">HG-OP+</text>
<text transform="translate(1455.6,2217.9) scale(1.020,1.000)" y="0" font-size="24.3" font-weight="bold" text-anchor="start" fill="#0a0a0a" stroke="#0a0a0a" stroke-width="0.3">300</text>
<text transform="translate(1506.2,2217.9)" y="0" font-size="25" font-weight="normal" text-anchor="start" fill="#0a0a0a" font-family='"Liberation Serif", serif'>μ</text>
<text transform="translate(1520.3,2217.9) scale(1.020,1.000)" y="0" font-size="24.3" font-weight="bold" text-anchor="start" fill="#0a0a0a" stroke="#0a0a0a" stroke-width="0.3">M</text>
<text transform="translate(1550,2217.9) scale(1.045,1.000)" y="0" font-size="24.3" font-weight="bold" text-anchor="start" fill="#0a0a0a" stroke="#0a0a0a" stroke-width="0.3">FA16:0</text>
<path d="M1334 2269.3L1341.1 2256.9L1326.9 2256.9Z" fill="#000" stroke="#fff" stroke-width="0.6"/>
<text transform="translate(1358.6,2270.2) scale(0.954,1.000)" y="0" font-size="24.3" font-weight="bold" text-anchor="start" fill="#0a0a0a" stroke="#0a0a0a" stroke-width="0.3">HG-OP+</text>
<text transform="translate(1466.6,2270.2) scale(1.020,1.000)" y="0" font-size="24.3" font-weight="bold" text-anchor="start" fill="#0a0a0a" stroke="#0a0a0a" stroke-width="0.3">300</text>
<text transform="translate(1517.4,2270.2)" y="0" font-size="25" font-weight="normal" text-anchor="start" fill="#0a0a0a" font-family='"Liberation Serif", serif'>μ</text>
<text transform="translate(1531.3,2270.2) scale(1.020,1.000)" y="0" font-size="24.3" font-weight="bold" text-anchor="start" fill="#0a0a0a" stroke="#0a0a0a" stroke-width="0.3">M</text>
<text transform="translate(1561,2270.2) scale(1.045,1.000)" y="0" font-size="24.3" font-weight="bold" text-anchor="start" fill="#0a0a0a" stroke="#0a0a0a" stroke-width="0.3">FA18:1n7</text>
<path d="M1334 2304.4L1341.1 2311.5L1334 2318.6L1326.9 2311.5Z" fill="#000" stroke="#fff" stroke-width="0.6"/>
<text transform="translate(1358.6,2318.6) scale(0.954,1.000)" y="0" font-size="24.3" font-weight="bold" text-anchor="start" fill="#0a0a0a" stroke="#0a0a0a" stroke-width="0.3">HG-OP+</text>
<text transform="translate(1466.6,2318.6) scale(1.020,1.000)" y="0" font-size="24.3" font-weight="bold" text-anchor="start" fill="#0a0a0a" stroke="#0a0a0a" stroke-width="0.3">300</text>
<text transform="translate(1517.4,2318.6)" y="0" font-size="25" font-weight="normal" text-anchor="start" fill="#0a0a0a" font-family='"Liberation Serif", serif'>μ</text>
<text transform="translate(1531.3,2318.6) scale(1.020,1.000)" y="0" font-size="24.3" font-weight="bold" text-anchor="start" fill="#0a0a0a" stroke="#0a0a0a" stroke-width="0.3">M</text>
<text transform="translate(1561,2318.6) scale(1.045,1.000)" y="0" font-size="24.3" font-weight="bold" text-anchor="start" fill="#0a0a0a" stroke="#0a0a0a" stroke-width="0.3">FA18:1n9</text>
<circle cx="1334" cy="2369.1" r="5.3" fill="#fff" stroke="#000" stroke-width="1.5"/>
<text transform="translate(1358.6,2375.6) scale(0.954,1.000)" y="0" font-size="24.3" font-weight="bold" text-anchor="start" fill="#0a0a0a" stroke="#0a0a0a" stroke-width="0.3">HG-OP+</text>
<text transform="translate(1466.6,2375.6) scale(1.020,1.000)" y="0" font-size="24.3" font-weight="bold" text-anchor="start" fill="#0a0a0a" stroke="#0a0a0a" stroke-width="0.3">300</text>
<text transform="translate(1517.4,2375.6)" y="0" font-size="25" font-weight="normal" text-anchor="start" fill="#0a0a0a" font-family='"Liberation Serif", serif'>μ</text>
<text transform="translate(1531.3,2375.6) scale(1.020,1.000)" y="0" font-size="24.3" font-weight="bold" text-anchor="start" fill="#0a0a0a" stroke="#0a0a0a" stroke-width="0.3">M</text>
<text transform="translate(1561,2375.6) scale(1.045,1.000)" y="0" font-size="24.3" font-weight="bold" text-anchor="start" fill="#0a0a0a" stroke="#0a0a0a" stroke-width="0.3">FA18:3n3</text>
</svg>
</body></html>
